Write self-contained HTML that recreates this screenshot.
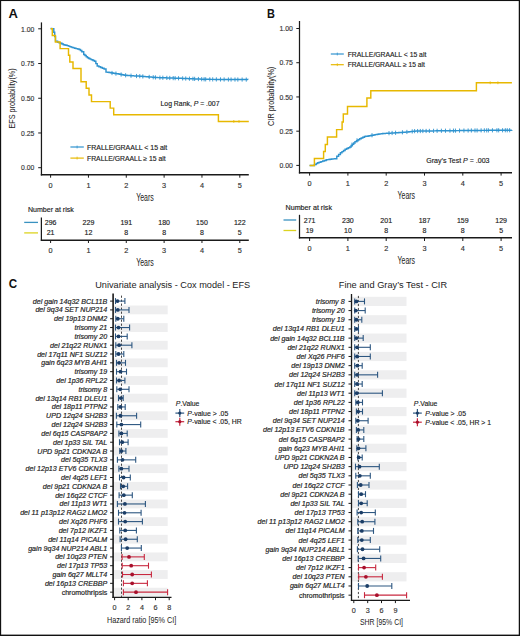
<!DOCTYPE html>
<html><head><meta charset="utf-8"><style>
html,body{margin:0;padding:0;background:#fff;}
body{width:520px;height:636px;overflow:hidden;}
svg{display:block;font-family:"Liberation Sans", sans-serif;}
</style></head><body>
<svg width="520" height="636" viewBox="0 0 520 636">
<rect x="0" y="0" width="520" height="636" fill="#fff"/>
<text x="8.4" y="18.1" font-size="12.9" text-anchor="start" fill="#111" font-weight="bold" textLength="9.4" lengthAdjust="spacingAndGlyphs">A</text>
<line x1="41.45" y1="22.4" x2="41.45" y2="175.5" stroke="#1a1a1a" stroke-width="1.25"/>
<line x1="40.8" y1="174.8" x2="248.8" y2="174.8" stroke="#1a1a1a" stroke-width="1.5"/>
<line x1="38.2" y1="167.7" x2="41.4" y2="167.7" stroke="#1a1a1a" stroke-width="1"/>
<text x="34.4" y="170.4" font-size="7.5" text-anchor="end" fill="#333" textLength="13.3" lengthAdjust="spacingAndGlyphs" stroke="#333" stroke-width="0.15">0.00</text>
<line x1="38.2" y1="132.975" x2="41.4" y2="132.975" stroke="#1a1a1a" stroke-width="1"/>
<text x="34.4" y="135.67" font-size="7.5" text-anchor="end" fill="#333" textLength="13.3" lengthAdjust="spacingAndGlyphs" stroke="#333" stroke-width="0.15">0.25</text>
<line x1="38.2" y1="98.24999999999999" x2="41.4" y2="98.24999999999999" stroke="#1a1a1a" stroke-width="1"/>
<text x="34.4" y="100.95" font-size="7.5" text-anchor="end" fill="#333" textLength="13.3" lengthAdjust="spacingAndGlyphs" stroke="#333" stroke-width="0.15">0.50</text>
<line x1="38.2" y1="63.52499999999998" x2="41.4" y2="63.52499999999998" stroke="#1a1a1a" stroke-width="1"/>
<text x="34.4" y="66.22" font-size="7.5" text-anchor="end" fill="#333" textLength="13.3" lengthAdjust="spacingAndGlyphs" stroke="#333" stroke-width="0.15">0.75</text>
<line x1="38.2" y1="28.799999999999983" x2="41.4" y2="28.799999999999983" stroke="#1a1a1a" stroke-width="1"/>
<text x="34.4" y="31.5" font-size="7.5" text-anchor="end" fill="#333" textLength="13.3" lengthAdjust="spacingAndGlyphs" stroke="#333" stroke-width="0.15">1.00</text>
<line x1="50.6" y1="174.8" x2="50.6" y2="177.7" stroke="#1a1a1a" stroke-width="1"/>
<text x="50.6" y="187.5" font-size="7.3" text-anchor="middle" fill="#333" stroke="#333" stroke-width="0.15">0</text>
<line x1="88.44" y1="174.8" x2="88.44" y2="177.7" stroke="#1a1a1a" stroke-width="1"/>
<text x="88.44" y="187.5" font-size="7.3" text-anchor="middle" fill="#333" stroke="#333" stroke-width="0.15">1</text>
<line x1="126.28" y1="174.8" x2="126.28" y2="177.7" stroke="#1a1a1a" stroke-width="1"/>
<text x="126.28" y="187.5" font-size="7.3" text-anchor="middle" fill="#333" stroke="#333" stroke-width="0.15">2</text>
<line x1="164.12" y1="174.8" x2="164.12" y2="177.7" stroke="#1a1a1a" stroke-width="1"/>
<text x="164.12" y="187.5" font-size="7.3" text-anchor="middle" fill="#333" stroke="#333" stroke-width="0.15">3</text>
<line x1="201.96" y1="174.8" x2="201.96" y2="177.7" stroke="#1a1a1a" stroke-width="1"/>
<text x="201.96" y="187.5" font-size="7.3" text-anchor="middle" fill="#333" stroke="#333" stroke-width="0.15">4</text>
<line x1="239.8" y1="174.8" x2="239.8" y2="177.7" stroke="#1a1a1a" stroke-width="1"/>
<text x="239.8" y="187.5" font-size="7.3" text-anchor="middle" fill="#333" stroke="#333" stroke-width="0.15">5</text>
<text x="145" y="201" font-size="10.3" text-anchor="middle" fill="#222" textLength="17.6" lengthAdjust="spacingAndGlyphs">Years</text>
<text transform="translate(15.2,98.4) rotate(-90)" font-size="9.2" text-anchor="middle" fill="#222" textLength="60.2" lengthAdjust="spacingAndGlyphs">EFS probability(%)</text>
<path d="M50.6,28.5 H51.70 V28.60 H53.80 V32.20 H54.70 V36.50 H55.50 V41.10 H57.60 V42.30 H59.05 V42.75 H60.50 V43.20 H61.95 V43.95 H63.40 V44.70 H64.67 V45.00 H65.93 V45.30 H67.20 V45.60 H68.50 V46.10 H69.80 V46.60 H71.10 V47.10 H72.32 V47.48 H73.55 V47.85 H74.78 V48.23 H76.00 V48.60 H77.55 V49.00 H79.10 V49.40 H80.45 V50.55 H81.80 V51.70 H83.70 V54.40 H84.97 V55.53 H86.23 V56.67 H87.50 V57.80 H88.80 V58.47 H90.10 V59.13 H91.40 V59.80 H92.95 V60.55 H94.50 V61.30 H95.85 V63.60 H97.20 V65.90 H98.90 V66.70 H100.60 V67.50 H102.35 V68.25 H104.10 V69.00 H106.00 V72.10 H107.53 V72.33 H109.07 V72.57 H110.60 V72.80 H111.95 V73.00 H113.30 V73.20 H114.65 V73.40 H116.00 V73.60 H117.23 V73.83 H118.46 V74.06 H119.69 V74.29 H120.91 V74.51 H122.14 V74.74 H123.37 V74.97 H124.60 V75.20 H125.83 V75.30 H127.07 V75.40 H128.30 V75.50 H129.53 V75.60 H130.77 V75.70 H132.00 V75.80 H133.33 V75.87 H134.67 V75.93 H136.00 V76.00 H137.33 V76.07 H138.67 V76.13 H140.00 V76.20 H141.25 V76.30 H142.50 V76.40 H143.75 V76.50 H145.00 V76.60 H146.25 V76.70 H147.50 V76.80 H148.75 V76.90 H150.00 V77.00 H151.25 V77.10 H152.50 V77.20 H153.75 V77.30 H155.00 V77.40 H156.25 V77.50 H157.50 V77.60 H158.75 V77.64 H160.00 V77.68 H161.25 V77.72 H162.50 V77.76 H163.75 V77.80 H165.00 V77.84 H166.25 V77.88 H167.50 V77.92 H168.75 V77.96 H170.00 V78.00 H171.25 V78.04 H172.50 V78.08 H173.75 V78.11 H175.00 V78.15 H176.25 V78.19 H177.50 V78.22 H178.75 V78.26 H180.00 V78.30 H181.25 V78.35 H182.50 V78.40 H183.75 V78.45 H185.00 V78.50 H186.25 V78.55 H187.50 V78.60 H188.75 V78.65 H190.00 V78.70 H191.25 V78.75 H192.50 V78.80 H193.75 V78.85 H195.00 V78.90 H196.25 V78.95 H197.50 V79.00 H198.75 V79.05 H200.00 V79.10 H201.25 V79.15 H202.50 V79.20 H203.75 V79.25 H205.00 V79.30 H206.25 V79.31 H207.50 V79.33 H208.75 V79.34 H210.00 V79.35 H211.25 V79.36 H212.50 V79.38 H213.75 V79.39 H215.00 V79.40 H216.25 V79.41 H217.50 V79.42 H218.75 V79.44 H220.00 V79.45 H221.25 V79.46 H222.50 V79.47 H223.75 V79.49 H225.00 V79.50 H226.21 V79.51 H227.42 V79.51 H228.63 V79.52 H229.84 V79.52 H231.05 V79.53 H232.26 V79.53 H233.47 V79.54 H234.68 V79.54 H235.89 V79.55 H237.11 V79.55 H238.32 V79.56 H239.53 V79.56 H240.74 V79.57 H241.95 V79.57 H243.16 V79.58 H244.37 V79.58 H245.58 V79.59 H246.79 V79.59 H248.00 V79.60" fill="none" stroke="#2f93cf" stroke-width="1.45"/>
<path d="M50.6,28.8 H52.3 V35.5 H55.4 V42.0 H60.1 V48.6 H68.5 V55.2 H69.8 V61.9 H73.0 V68.5 H81.0 V81.7 H86.2 V88.3 H89.0 V94.9 H91.5 V101.6 H110.2 V108.1 H113.7 V114.7 H218.4 V121.4 H248.8" fill="none" stroke="#E7B800" stroke-width="1.45"/>
<line x1="112" y1="70.91" x2="112" y2="75.11" stroke="#2f93cf" stroke-width="0.9"/>
<line x1="115.95" y1="71.49" x2="115.95" y2="75.69" stroke="#2f93cf" stroke-width="0.9"/>
<line x1="121.13" y1="72.45" x2="121.13" y2="76.65" stroke="#2f93cf" stroke-width="0.9"/>
<line x1="125.61" y1="73.18" x2="125.61" y2="77.38" stroke="#2f93cf" stroke-width="0.9"/>
<line x1="131.02" y1="73.62" x2="131.02" y2="77.82" stroke="#2f93cf" stroke-width="0.9"/>
<line x1="136.53" y1="73.93" x2="136.53" y2="78.13" stroke="#2f93cf" stroke-width="0.9"/>
<line x1="139.79" y1="74.09" x2="139.79" y2="78.29" stroke="#2f93cf" stroke-width="0.9"/>
<line x1="142.84" y1="74.33" x2="142.84" y2="78.53" stroke="#2f93cf" stroke-width="0.9"/>
<line x1="149.19" y1="74.84" x2="149.19" y2="79.04" stroke="#2f93cf" stroke-width="0.9"/>
<line x1="153.23" y1="75.16" x2="153.23" y2="79.36" stroke="#2f93cf" stroke-width="0.9"/>
<line x1="155.43" y1="75.33" x2="155.43" y2="79.53" stroke="#2f93cf" stroke-width="0.9"/>
<line x1="159.92" y1="75.58" x2="159.92" y2="79.78" stroke="#2f93cf" stroke-width="0.9"/>
<line x1="162.83" y1="75.67" x2="162.83" y2="79.87" stroke="#2f93cf" stroke-width="0.9"/>
<line x1="166.84" y1="75.8" x2="166.84" y2="80.0" stroke="#2f93cf" stroke-width="0.9"/>
<line x1="169.77" y1="75.89" x2="169.77" y2="80.09" stroke="#2f93cf" stroke-width="0.9"/>
<line x1="173.19" y1="76.0" x2="173.19" y2="80.2" stroke="#2f93cf" stroke-width="0.9"/>
<line x1="175.14" y1="76.05" x2="175.14" y2="80.25" stroke="#2f93cf" stroke-width="0.9"/>
<line x1="178.54" y1="76.16" x2="178.54" y2="80.36" stroke="#2f93cf" stroke-width="0.9"/>
<line x1="182.65" y1="76.31" x2="182.65" y2="80.51" stroke="#2f93cf" stroke-width="0.9"/>
<line x1="185.72" y1="76.43" x2="185.72" y2="80.63" stroke="#2f93cf" stroke-width="0.9"/>
<line x1="189.44" y1="76.58" x2="189.44" y2="80.78" stroke="#2f93cf" stroke-width="0.9"/>
<line x1="192.95" y1="76.72" x2="192.95" y2="80.92" stroke="#2f93cf" stroke-width="0.9"/>
<line x1="194.65" y1="76.79" x2="194.65" y2="80.99" stroke="#2f93cf" stroke-width="0.9"/>
<line x1="198.42" y1="76.94" x2="198.42" y2="81.14" stroke="#2f93cf" stroke-width="0.9"/>
<line x1="201.69" y1="77.07" x2="201.69" y2="81.27" stroke="#2f93cf" stroke-width="0.9"/>
<line x1="204.1" y1="77.16" x2="204.1" y2="81.36" stroke="#2f93cf" stroke-width="0.9"/>
<line x1="205.69" y1="77.21" x2="205.69" y2="81.41" stroke="#2f93cf" stroke-width="0.9"/>
<line x1="209.79" y1="77.25" x2="209.79" y2="81.45" stroke="#2f93cf" stroke-width="0.9"/>
<line x1="212.71" y1="77.28" x2="212.71" y2="81.48" stroke="#2f93cf" stroke-width="0.9"/>
<line x1="216.36" y1="77.31" x2="216.36" y2="81.51" stroke="#2f93cf" stroke-width="0.9"/>
<line x1="220.5" y1="77.35" x2="220.5" y2="81.55" stroke="#2f93cf" stroke-width="0.9"/>
<line x1="224.14" y1="77.39" x2="224.14" y2="81.59" stroke="#2f93cf" stroke-width="0.9"/>
<line x1="228.4" y1="77.41" x2="228.4" y2="81.61" stroke="#2f93cf" stroke-width="0.9"/>
<line x1="231.09" y1="77.43" x2="231.09" y2="81.63" stroke="#2f93cf" stroke-width="0.9"/>
<line x1="234.99" y1="77.44" x2="234.99" y2="81.64" stroke="#2f93cf" stroke-width="0.9"/>
<line x1="237.83" y1="77.46" x2="237.83" y2="81.66" stroke="#2f93cf" stroke-width="0.9"/>
<line x1="242.13" y1="77.47" x2="242.13" y2="81.67" stroke="#2f93cf" stroke-width="0.9"/>
<line x1="246.27" y1="77.49" x2="246.27" y2="81.69" stroke="#2f93cf" stroke-width="0.9"/>
<line x1="233.8" y1="120" x2="233.8" y2="122.8" stroke="#E7B800" stroke-width="0.8"/>
<line x1="239.0" y1="120" x2="239.0" y2="122.8" stroke="#E7B800" stroke-width="0.8"/>
<line x1="70.4" y1="147" x2="83.8" y2="147" stroke="#2f93cf" stroke-width="1.2"/>
<line x1="77.1" y1="145.6" x2="77.1" y2="148.4" stroke="#2f93cf" stroke-width="0.8"/>
<line x1="70.4" y1="158.1" x2="83.8" y2="158.1" stroke="#E7B800" stroke-width="1.2"/>
<line x1="77.1" y1="156.7" x2="77.1" y2="159.5" stroke="#E7B800" stroke-width="0.8"/>
<text x="87" y="149.5" font-size="7" text-anchor="start" fill="#222" textLength="80.3" lengthAdjust="spacingAndGlyphs" stroke="#222" stroke-width="0.15">FRALLE/GRAALL &lt; 15 alt</text>
<text x="87" y="160.6" font-size="7" text-anchor="start" fill="#222" textLength="78.7" lengthAdjust="spacingAndGlyphs" stroke="#222" stroke-width="0.15">FRALLE/GRAALL ≥ 15 alt</text>
<text x="160.5" y="106.2" font-size="7" text-anchor="start" fill="#222" textLength="59" lengthAdjust="spacingAndGlyphs" stroke="#222" stroke-width="0.15">Log Rank, <tspan font-style="italic">P</tspan> = .007</text>
<text x="28" y="212" font-size="6.8" text-anchor="start" fill="#222" textLength="45.8" lengthAdjust="spacingAndGlyphs" stroke="#222" stroke-width="0.15">Number at risk</text>
<line x1="24.2" y1="222.4" x2="38" y2="222.4" stroke="#3a92c0" stroke-width="1.3"/>
<line x1="24.2" y1="232.9" x2="38" y2="232.9" stroke="#dcd320" stroke-width="1.3"/>
<line x1="41.4" y1="217.5" x2="41.4" y2="240.9" stroke="#1a1a1a" stroke-width="1.25"/>
<line x1="40.8" y1="240.2" x2="248.8" y2="240.2" stroke="#1a1a1a" stroke-width="1.4"/>
<text x="50.6" y="224.8" font-size="7" text-anchor="middle" fill="#222" stroke="#222" stroke-width="0.15">296</text>
<text x="50.6" y="235.2" font-size="7" text-anchor="middle" fill="#222" stroke="#222" stroke-width="0.15">21</text>
<line x1="50.6" y1="240" x2="50.6" y2="243" stroke="#1a1a1a" stroke-width="1"/>
<text x="50.6" y="252.9" font-size="7.3" text-anchor="middle" fill="#333" stroke="#333" stroke-width="0.15">0</text>
<text x="88.44" y="224.8" font-size="7" text-anchor="middle" fill="#222" stroke="#222" stroke-width="0.15">229</text>
<text x="88.44" y="235.2" font-size="7" text-anchor="middle" fill="#222" stroke="#222" stroke-width="0.15">12</text>
<line x1="88.44" y1="240" x2="88.44" y2="243" stroke="#1a1a1a" stroke-width="1"/>
<text x="88.44" y="252.9" font-size="7.3" text-anchor="middle" fill="#333" stroke="#333" stroke-width="0.15">1</text>
<text x="126.28" y="224.8" font-size="7" text-anchor="middle" fill="#222" stroke="#222" stroke-width="0.15">191</text>
<text x="126.28" y="235.2" font-size="7" text-anchor="middle" fill="#222" stroke="#222" stroke-width="0.15">8</text>
<line x1="126.28" y1="240" x2="126.28" y2="243" stroke="#1a1a1a" stroke-width="1"/>
<text x="126.28" y="252.9" font-size="7.3" text-anchor="middle" fill="#333" stroke="#333" stroke-width="0.15">2</text>
<text x="164.12" y="224.8" font-size="7" text-anchor="middle" fill="#222" stroke="#222" stroke-width="0.15">180</text>
<text x="164.12" y="235.2" font-size="7" text-anchor="middle" fill="#222" stroke="#222" stroke-width="0.15">8</text>
<line x1="164.12" y1="240" x2="164.12" y2="243" stroke="#1a1a1a" stroke-width="1"/>
<text x="164.12" y="252.9" font-size="7.3" text-anchor="middle" fill="#333" stroke="#333" stroke-width="0.15">3</text>
<text x="201.96" y="224.8" font-size="7" text-anchor="middle" fill="#222" stroke="#222" stroke-width="0.15">150</text>
<text x="201.96" y="235.2" font-size="7" text-anchor="middle" fill="#222" stroke="#222" stroke-width="0.15">8</text>
<line x1="201.96" y1="240" x2="201.96" y2="243" stroke="#1a1a1a" stroke-width="1"/>
<text x="201.96" y="252.9" font-size="7.3" text-anchor="middle" fill="#333" stroke="#333" stroke-width="0.15">4</text>
<text x="239.8" y="224.8" font-size="7" text-anchor="middle" fill="#222" stroke="#222" stroke-width="0.15">122</text>
<text x="239.8" y="235.2" font-size="7" text-anchor="middle" fill="#222" stroke="#222" stroke-width="0.15">5</text>
<line x1="239.8" y1="240" x2="239.8" y2="243" stroke="#1a1a1a" stroke-width="1"/>
<text x="239.8" y="252.9" font-size="7.3" text-anchor="middle" fill="#333" stroke="#333" stroke-width="0.15">5</text>
<text x="145" y="266.3" font-size="10.3" text-anchor="middle" fill="#222" textLength="17.6" lengthAdjust="spacingAndGlyphs">Years</text>
<text x="267.1" y="17.6" font-size="12.2" text-anchor="start" fill="#111" font-weight="bold" textLength="7.9" lengthAdjust="spacingAndGlyphs">B</text>
<line x1="299.5" y1="21.0" x2="299.5" y2="173.5" stroke="#1a1a1a" stroke-width="1.25"/>
<line x1="298.9" y1="172.75" x2="512" y2="172.75" stroke="#1a1a1a" stroke-width="1.5"/>
<line x1="296.3" y1="165.4" x2="299.5" y2="165.4" stroke="#1a1a1a" stroke-width="1"/>
<text x="292.8" y="168.1" font-size="7.5" text-anchor="end" fill="#333" textLength="13.4" lengthAdjust="spacingAndGlyphs" stroke="#333" stroke-width="0.15">0.00</text>
<line x1="296.3" y1="131.175" x2="299.5" y2="131.175" stroke="#1a1a1a" stroke-width="1"/>
<text x="292.8" y="133.88" font-size="7.5" text-anchor="end" fill="#333" textLength="13.4" lengthAdjust="spacingAndGlyphs" stroke="#333" stroke-width="0.15">0.25</text>
<line x1="296.3" y1="96.95" x2="299.5" y2="96.95" stroke="#1a1a1a" stroke-width="1"/>
<text x="292.8" y="99.65" font-size="7.5" text-anchor="end" fill="#333" textLength="13.4" lengthAdjust="spacingAndGlyphs" stroke="#333" stroke-width="0.15">0.50</text>
<line x1="296.3" y1="62.724999999999994" x2="299.5" y2="62.724999999999994" stroke="#1a1a1a" stroke-width="1"/>
<text x="292.8" y="65.42" font-size="7.5" text-anchor="end" fill="#333" textLength="13.4" lengthAdjust="spacingAndGlyphs" stroke="#333" stroke-width="0.15">0.75</text>
<line x1="296.3" y1="28.5" x2="299.5" y2="28.5" stroke="#1a1a1a" stroke-width="1"/>
<text x="292.8" y="31.2" font-size="7.5" text-anchor="end" fill="#333" textLength="13.4" lengthAdjust="spacingAndGlyphs" stroke="#333" stroke-width="0.15">1.00</text>
<line x1="309.6" y1="172.7" x2="309.6" y2="175.6" stroke="#1a1a1a" stroke-width="1"/>
<text x="309.6" y="185.5" font-size="7.3" text-anchor="middle" fill="#333" stroke="#333" stroke-width="0.15">0</text>
<line x1="347.90000000000003" y1="172.7" x2="347.90000000000003" y2="175.6" stroke="#1a1a1a" stroke-width="1"/>
<text x="347.9" y="185.5" font-size="7.3" text-anchor="middle" fill="#333" stroke="#333" stroke-width="0.15">1</text>
<line x1="386.20000000000005" y1="172.7" x2="386.20000000000005" y2="175.6" stroke="#1a1a1a" stroke-width="1"/>
<text x="386.2" y="185.5" font-size="7.3" text-anchor="middle" fill="#333" stroke="#333" stroke-width="0.15">2</text>
<line x1="424.5" y1="172.7" x2="424.5" y2="175.6" stroke="#1a1a1a" stroke-width="1"/>
<text x="424.5" y="185.5" font-size="7.3" text-anchor="middle" fill="#333" stroke="#333" stroke-width="0.15">3</text>
<line x1="462.8" y1="172.7" x2="462.8" y2="175.6" stroke="#1a1a1a" stroke-width="1"/>
<text x="462.8" y="185.5" font-size="7.3" text-anchor="middle" fill="#333" stroke="#333" stroke-width="0.15">4</text>
<line x1="501.1" y1="172.7" x2="501.1" y2="175.6" stroke="#1a1a1a" stroke-width="1"/>
<text x="501.1" y="185.5" font-size="7.3" text-anchor="middle" fill="#333" stroke="#333" stroke-width="0.15">5</text>
<text x="406.3" y="198.5" font-size="10.3" text-anchor="middle" fill="#222" textLength="17.6" lengthAdjust="spacingAndGlyphs">Years</text>
<text transform="translate(273.6,96.3) rotate(-90)" font-size="9.2" text-anchor="middle" fill="#222" textLength="59.2" lengthAdjust="spacingAndGlyphs">CIR probability(%)</text>
<path d="M309.6,165.4 H312.00 V165.40 H314.40 V164.60 H316.20 V163.40 H317.70 V162.80 H319.20 V162.20 H320.95 V161.60 H322.70 V161.00 H324.45 V160.40 H326.20 V159.80 H327.47 V159.60 H328.73 V159.40 H330.00 V159.20 H331.50 V159.03 H333.00 V158.87 H334.50 V158.70 H336.80 V156.30 H338.60 V154.55 H340.40 V152.80 H341.97 V151.60 H343.53 V150.40 H345.10 V149.20 H346.67 V148.43 H348.23 V147.67 H349.80 V146.90 H351.10 V145.57 H352.40 V144.25 H353.70 V142.93 H355.00 V141.60 H356.53 V140.67 H358.07 V139.73 H359.60 V138.80 H361.20 V138.03 H362.80 V137.27 H364.40 V136.50 H365.60 V136.32 H366.80 V136.15 H368.00 V135.98 H369.20 V135.80 H370.65 V135.50 H372.10 V135.20 H373.55 V134.90 H375.00 V134.60 H376.28 V134.42 H377.57 V134.23 H378.85 V134.05 H380.13 V133.87 H381.42 V133.68 H382.70 V133.50 H383.98 V133.43 H385.27 V133.37 H386.55 V133.30 H387.83 V133.23 H389.12 V133.17 H390.40 V133.10 H391.60 V133.03 H392.80 V132.95 H394.00 V132.88 H395.20 V132.80 H396.40 V132.72 H397.60 V132.65 H398.80 V132.57 H400.00 V132.50 H401.28 V132.40 H402.57 V132.30 H403.85 V132.20 H405.13 V132.10 H406.42 V132.00 H407.70 V131.90 H408.92 V131.77 H410.13 V131.63 H411.35 V131.50 H412.57 V131.37 H413.78 V131.23 H415.00 V131.10 H416.25 V131.09 H417.50 V131.07 H418.75 V131.06 H420.00 V131.04 H421.25 V131.03 H422.50 V131.01 H423.75 V131.00 H425.00 V130.98 H426.25 V130.97 H427.50 V130.95 H428.75 V130.94 H430.00 V130.92 H431.25 V130.91 H432.50 V130.89 H433.75 V130.88 H435.00 V130.86 H436.25 V130.84 H437.50 V130.83 H438.75 V130.81 H440.00 V130.80 H441.21 V130.79 H442.42 V130.78 H443.64 V130.76 H444.85 V130.75 H446.06 V130.74 H447.27 V130.73 H448.48 V130.72 H449.70 V130.70 H450.91 V130.69 H452.12 V130.68 H453.33 V130.67 H454.55 V130.65 H455.76 V130.64 H456.97 V130.63 H458.18 V130.62 H459.39 V130.61 H460.61 V130.59 H461.82 V130.58 H463.03 V130.57 H464.24 V130.56 H465.45 V130.55 H466.67 V130.53 H467.88 V130.52 H469.09 V130.51 H470.30 V130.50 H471.52 V130.48 H472.73 V130.47 H473.94 V130.46 H475.15 V130.45 H476.36 V130.44 H477.58 V130.42 H478.79 V130.41 H480.00 V130.40 H481.22 V130.39 H482.45 V130.38 H483.67 V130.38 H484.89 V130.37 H486.12 V130.36 H487.34 V130.35 H488.56 V130.35 H489.78 V130.34 H491.01 V130.33 H492.23 V130.32 H493.45 V130.32 H494.68 V130.31 H495.90 V130.30 H497.12 V130.29 H498.35 V130.28 H499.57 V130.28 H500.79 V130.27 H502.02 V130.26 H503.24 V130.25 H504.46 V130.25 H505.68 V130.24 H506.91 V130.23 H508.13 V130.22 H509.35 V130.22 H510.58 V130.21 H511.80 V130.20" fill="none" stroke="#2f93cf" stroke-width="1.45"/>
<path d="M309.6,165.4 H314.4 V158.4 H323.6 V151.4 H325.3 V144.5 H327.4 V136.9 H336.6 V129.6 H342.1 V122.0 H343.3 V114.0 H347.5 V106.5 H366.9 V97.9 H370.8 V90.8 H476.4 V82.8 H511.9" fill="none" stroke="#E7B800" stroke-width="1.45"/>
<line x1="352" y1="142.56" x2="352" y2="146.76" stroke="#2f93cf" stroke-width="0.9"/>
<line x1="357" y1="138.28" x2="357" y2="142.48" stroke="#2f93cf" stroke-width="0.9"/>
<line x1="372" y1="133.12" x2="372" y2="137.32" stroke="#2f93cf" stroke-width="0.9"/>
<line x1="389" y1="131.07" x2="389" y2="135.27" stroke="#2f93cf" stroke-width="0.9"/>
<line x1="392.11" y1="130.89" x2="392.11" y2="135.09" stroke="#2f93cf" stroke-width="0.9"/>
<line x1="395.59" y1="130.68" x2="395.59" y2="134.88" stroke="#2f93cf" stroke-width="0.9"/>
<line x1="402.43" y1="130.21" x2="402.43" y2="134.41" stroke="#2f93cf" stroke-width="0.9"/>
<line x1="406.9" y1="129.86" x2="406.9" y2="134.06" stroke="#2f93cf" stroke-width="0.9"/>
<line x1="412.22" y1="129.31" x2="412.22" y2="133.51" stroke="#2f93cf" stroke-width="0.9"/>
<line x1="414.62" y1="129.04" x2="414.62" y2="133.24" stroke="#2f93cf" stroke-width="0.9"/>
<line x1="417.64" y1="128.97" x2="417.64" y2="133.17" stroke="#2f93cf" stroke-width="0.9"/>
<line x1="420.3" y1="128.94" x2="420.3" y2="133.14" stroke="#2f93cf" stroke-width="0.9"/>
<line x1="422.85" y1="128.91" x2="422.85" y2="133.11" stroke="#2f93cf" stroke-width="0.9"/>
<line x1="426.11" y1="128.87" x2="426.11" y2="133.07" stroke="#2f93cf" stroke-width="0.9"/>
<line x1="429.36" y1="128.83" x2="429.36" y2="133.03" stroke="#2f93cf" stroke-width="0.9"/>
<line x1="433.57" y1="128.78" x2="433.57" y2="132.98" stroke="#2f93cf" stroke-width="0.9"/>
<line x1="437.12" y1="128.73" x2="437.12" y2="132.93" stroke="#2f93cf" stroke-width="0.9"/>
<line x1="441.4" y1="128.69" x2="441.4" y2="132.89" stroke="#2f93cf" stroke-width="0.9"/>
<line x1="445.47" y1="128.65" x2="445.47" y2="132.85" stroke="#2f93cf" stroke-width="0.9"/>
<line x1="449.95" y1="128.6" x2="449.95" y2="132.8" stroke="#2f93cf" stroke-width="0.9"/>
<line x1="453.46" y1="128.57" x2="453.46" y2="132.77" stroke="#2f93cf" stroke-width="0.9"/>
<line x1="455.45" y1="128.55" x2="455.45" y2="132.75" stroke="#2f93cf" stroke-width="0.9"/>
<line x1="459.53" y1="128.5" x2="459.53" y2="132.7" stroke="#2f93cf" stroke-width="0.9"/>
<line x1="463.93" y1="128.46" x2="463.93" y2="132.66" stroke="#2f93cf" stroke-width="0.9"/>
<line x1="468.14" y1="128.42" x2="468.14" y2="132.62" stroke="#2f93cf" stroke-width="0.9"/>
<line x1="471.35" y1="128.39" x2="471.35" y2="132.59" stroke="#2f93cf" stroke-width="0.9"/>
<line x1="474.99" y1="128.35" x2="474.99" y2="132.55" stroke="#2f93cf" stroke-width="0.9"/>
<line x1="477.12" y1="128.33" x2="477.12" y2="132.53" stroke="#2f93cf" stroke-width="0.9"/>
<line x1="481.12" y1="128.29" x2="481.12" y2="132.49" stroke="#2f93cf" stroke-width="0.9"/>
<line x1="484.34" y1="128.27" x2="484.34" y2="132.47" stroke="#2f93cf" stroke-width="0.9"/>
<line x1="486.69" y1="128.26" x2="486.69" y2="132.46" stroke="#2f93cf" stroke-width="0.9"/>
<line x1="488.38" y1="128.25" x2="488.38" y2="132.45" stroke="#2f93cf" stroke-width="0.9"/>
<line x1="492.44" y1="128.22" x2="492.44" y2="132.42" stroke="#2f93cf" stroke-width="0.9"/>
<line x1="496.91" y1="128.19" x2="496.91" y2="132.39" stroke="#2f93cf" stroke-width="0.9"/>
<line x1="498.68" y1="128.18" x2="498.68" y2="132.38" stroke="#2f93cf" stroke-width="0.9"/>
<line x1="502.58" y1="128.16" x2="502.58" y2="132.36" stroke="#2f93cf" stroke-width="0.9"/>
<line x1="505.31" y1="128.14" x2="505.31" y2="132.34" stroke="#2f93cf" stroke-width="0.9"/>
<line x1="507.26" y1="128.13" x2="507.26" y2="132.33" stroke="#2f93cf" stroke-width="0.9"/>
<line x1="509.65" y1="128.11" x2="509.65" y2="132.31" stroke="#2f93cf" stroke-width="0.9"/>
<line x1="490.2" y1="81.4" x2="490.2" y2="84.2" stroke="#E7B800" stroke-width="0.8"/>
<line x1="497.9" y1="81.4" x2="497.9" y2="84.2" stroke="#E7B800" stroke-width="0.8"/>
<line x1="330.8" y1="54" x2="343.8" y2="54" stroke="#2f93cf" stroke-width="1.2"/>
<line x1="337.3" y1="52.6" x2="337.3" y2="55.4" stroke="#2f93cf" stroke-width="0.8"/>
<line x1="330.8" y1="64.7" x2="343.8" y2="64.7" stroke="#E7B800" stroke-width="1.2"/>
<line x1="337.3" y1="63.3" x2="337.3" y2="66.1" stroke="#E7B800" stroke-width="0.8"/>
<text x="347.7" y="56.5" font-size="7" text-anchor="start" fill="#222" textLength="78.6" lengthAdjust="spacingAndGlyphs" stroke="#222" stroke-width="0.15">FRALLE/GRAALL &lt; 15 alt</text>
<text x="347.7" y="67.2" font-size="7" text-anchor="start" fill="#222" textLength="77.2" lengthAdjust="spacingAndGlyphs" stroke="#222" stroke-width="0.15">FRALLE/GRAALL ≥ 15 alt</text>
<text x="426.3" y="162.5" font-size="7" text-anchor="start" fill="#222" textLength="63.2" lengthAdjust="spacingAndGlyphs" stroke="#222" stroke-width="0.15">Gray’s Test <tspan font-style="italic">P</tspan> = .003</text>
<text x="285.5" y="210" font-size="6.8" text-anchor="start" fill="#222" textLength="46.5" lengthAdjust="spacingAndGlyphs" stroke="#222" stroke-width="0.15">Number at risk</text>
<line x1="283.5" y1="220" x2="296.2" y2="220" stroke="#3a92c0" stroke-width="1.3"/>
<line x1="283.5" y1="230.5" x2="296.2" y2="230.5" stroke="#dcd320" stroke-width="1.3"/>
<line x1="299.5" y1="214.8" x2="299.5" y2="238.5" stroke="#1a1a1a" stroke-width="1.25"/>
<line x1="298.9" y1="237.8" x2="512" y2="237.8" stroke="#1a1a1a" stroke-width="1.5"/>
<text x="309.6" y="222.6" font-size="7" text-anchor="middle" fill="#222" stroke="#222" stroke-width="0.15">271</text>
<text x="309.6" y="232.9" font-size="7" text-anchor="middle" fill="#222" stroke="#222" stroke-width="0.15">19</text>
<line x1="309.6" y1="238" x2="309.6" y2="241" stroke="#1a1a1a" stroke-width="1"/>
<text x="309.6" y="250.7" font-size="7.3" text-anchor="middle" fill="#333" stroke="#333" stroke-width="0.15">0</text>
<text x="347.9" y="222.6" font-size="7" text-anchor="middle" fill="#222" stroke="#222" stroke-width="0.15">230</text>
<text x="347.9" y="232.9" font-size="7" text-anchor="middle" fill="#222" stroke="#222" stroke-width="0.15">10</text>
<line x1="347.90000000000003" y1="238" x2="347.90000000000003" y2="241" stroke="#1a1a1a" stroke-width="1"/>
<text x="347.9" y="250.7" font-size="7.3" text-anchor="middle" fill="#333" stroke="#333" stroke-width="0.15">1</text>
<text x="386.2" y="222.6" font-size="7" text-anchor="middle" fill="#222" stroke="#222" stroke-width="0.15">201</text>
<text x="386.2" y="232.9" font-size="7" text-anchor="middle" fill="#222" stroke="#222" stroke-width="0.15">8</text>
<line x1="386.20000000000005" y1="238" x2="386.20000000000005" y2="241" stroke="#1a1a1a" stroke-width="1"/>
<text x="386.2" y="250.7" font-size="7.3" text-anchor="middle" fill="#333" stroke="#333" stroke-width="0.15">2</text>
<text x="424.5" y="222.6" font-size="7" text-anchor="middle" fill="#222" stroke="#222" stroke-width="0.15">187</text>
<text x="424.5" y="232.9" font-size="7" text-anchor="middle" fill="#222" stroke="#222" stroke-width="0.15">8</text>
<line x1="424.5" y1="238" x2="424.5" y2="241" stroke="#1a1a1a" stroke-width="1"/>
<text x="424.5" y="250.7" font-size="7.3" text-anchor="middle" fill="#333" stroke="#333" stroke-width="0.15">3</text>
<text x="462.8" y="222.6" font-size="7" text-anchor="middle" fill="#222" stroke="#222" stroke-width="0.15">159</text>
<text x="462.8" y="232.9" font-size="7" text-anchor="middle" fill="#222" stroke="#222" stroke-width="0.15">8</text>
<line x1="462.8" y1="238" x2="462.8" y2="241" stroke="#1a1a1a" stroke-width="1"/>
<text x="462.8" y="250.7" font-size="7.3" text-anchor="middle" fill="#333" stroke="#333" stroke-width="0.15">4</text>
<text x="501.1" y="222.6" font-size="7" text-anchor="middle" fill="#222" stroke="#222" stroke-width="0.15">129</text>
<text x="501.1" y="232.9" font-size="7" text-anchor="middle" fill="#222" stroke="#222" stroke-width="0.15">5</text>
<line x1="501.1" y1="238" x2="501.1" y2="241" stroke="#1a1a1a" stroke-width="1"/>
<text x="501.1" y="250.7" font-size="7.3" text-anchor="middle" fill="#333" stroke="#333" stroke-width="0.15">5</text>
<text x="406.3" y="264.2" font-size="10.3" text-anchor="middle" fill="#222" textLength="17.6" lengthAdjust="spacingAndGlyphs">Years</text>
<text x="8.7" y="288.2" font-size="13.2" text-anchor="start" fill="#111" font-weight="bold" textLength="8.4" lengthAdjust="spacingAndGlyphs">C</text>
<rect x="113.1" y="305.51" width="54.60" height="8.82" fill="#eeeeef"/>
<rect x="113.1" y="323.15" width="54.60" height="8.82" fill="#eeeeef"/>
<rect x="113.1" y="340.79" width="54.60" height="8.82" fill="#eeeeef"/>
<rect x="113.1" y="358.43" width="54.60" height="8.82" fill="#eeeeef"/>
<rect x="113.1" y="376.07" width="54.60" height="8.82" fill="#eeeeef"/>
<rect x="113.1" y="393.71" width="54.60" height="8.82" fill="#eeeeef"/>
<rect x="113.1" y="411.35" width="54.60" height="8.82" fill="#eeeeef"/>
<rect x="113.1" y="428.99" width="54.60" height="8.82" fill="#eeeeef"/>
<rect x="113.1" y="446.63" width="54.60" height="8.82" fill="#eeeeef"/>
<rect x="113.1" y="464.27" width="54.60" height="8.82" fill="#eeeeef"/>
<rect x="113.1" y="481.91" width="54.60" height="8.82" fill="#eeeeef"/>
<rect x="113.1" y="499.55" width="54.60" height="8.82" fill="#eeeeef"/>
<rect x="113.1" y="517.19" width="54.60" height="8.82" fill="#eeeeef"/>
<rect x="113.1" y="534.83" width="54.60" height="8.82" fill="#eeeeef"/>
<rect x="113.1" y="552.47" width="54.60" height="8.82" fill="#eeeeef"/>
<rect x="113.1" y="570.11" width="54.60" height="8.82" fill="#eeeeef"/>
<rect x="113.1" y="587.75" width="54.60" height="8.82" fill="#eeeeef"/>
<line x1="121.5" y1="295.60" x2="121.5" y2="596.9" stroke="#333" stroke-width="0.9" stroke-dasharray="2.2,1.8"/>
<text x="107.2" y="303.6" font-size="7.1" text-anchor="end" fill="#222" font-style="italic" stroke="#222" stroke-width="0.18">del gain 14q32 BCL11B</text>
<line x1="110.1" y1="301.1" x2="113.1" y2="301.1" stroke="#1a1a1a" stroke-width="1"/>
<line x1="115.5" y1="301.1" x2="124.9" y2="301.1" stroke="#2c5680" stroke-width="1.1"/>
<line x1="115.5" y1="298.1" x2="115.5" y2="304.1" stroke="#2c5680" stroke-width="1.1"/>
<line x1="124.9" y1="298.1" x2="124.9" y2="304.1" stroke="#2c5680" stroke-width="1.1"/>
<circle cx="117.5" cy="301.1" r="1.9" fill="#1b3d66"/>
<text x="107.2" y="312.42" font-size="7.1" text-anchor="end" fill="#222" font-style="italic" stroke="#222" stroke-width="0.18">del 9q34 SET NUP214</text>
<line x1="110.1" y1="309.92" x2="113.1" y2="309.92" stroke="#1a1a1a" stroke-width="1"/>
<line x1="115.5" y1="309.92" x2="129.0" y2="309.92" stroke="#2c5680" stroke-width="1.1"/>
<line x1="115.5" y1="306.92" x2="115.5" y2="312.92" stroke="#2c5680" stroke-width="1.1"/>
<line x1="129.0" y1="306.92" x2="129.0" y2="312.92" stroke="#2c5680" stroke-width="1.1"/>
<circle cx="117.8" cy="309.92" r="1.9" fill="#1b3d66"/>
<text x="107.2" y="321.24" font-size="7.1" text-anchor="end" fill="#222" font-style="italic" stroke="#222" stroke-width="0.18">del 19p13 DNM2</text>
<line x1="110.1" y1="318.74" x2="113.1" y2="318.74" stroke="#1a1a1a" stroke-width="1"/>
<line x1="115.8" y1="318.74" x2="123.8" y2="318.74" stroke="#2c5680" stroke-width="1.1"/>
<line x1="115.8" y1="315.74" x2="115.8" y2="321.74" stroke="#2c5680" stroke-width="1.1"/>
<line x1="123.8" y1="315.74" x2="123.8" y2="321.74" stroke="#2c5680" stroke-width="1.1"/>
<circle cx="117.8" cy="318.74" r="1.9" fill="#1b3d66"/>
<text x="107.2" y="330.06" font-size="7.1" text-anchor="end" fill="#222" font-style="italic" stroke="#222" stroke-width="0.18">trisomy 21</text>
<line x1="110.1" y1="327.56" x2="113.1" y2="327.56" stroke="#1a1a1a" stroke-width="1"/>
<line x1="115.5" y1="327.56" x2="129.6" y2="327.56" stroke="#2c5680" stroke-width="1.1"/>
<line x1="115.5" y1="324.56" x2="115.5" y2="330.56" stroke="#2c5680" stroke-width="1.1"/>
<line x1="129.6" y1="324.56" x2="129.6" y2="330.56" stroke="#2c5680" stroke-width="1.1"/>
<circle cx="118.5" cy="327.56" r="1.9" fill="#1b3d66"/>
<text x="107.2" y="338.88" font-size="7.1" text-anchor="end" fill="#222" font-style="italic" stroke="#222" stroke-width="0.18">trisomy 20</text>
<line x1="110.1" y1="336.38" x2="113.1" y2="336.38" stroke="#1a1a1a" stroke-width="1"/>
<line x1="115.5" y1="336.38" x2="127.2" y2="336.38" stroke="#2c5680" stroke-width="1.1"/>
<line x1="115.5" y1="333.38" x2="115.5" y2="339.38" stroke="#2c5680" stroke-width="1.1"/>
<line x1="127.2" y1="333.38" x2="127.2" y2="339.38" stroke="#2c5680" stroke-width="1.1"/>
<circle cx="118.5" cy="336.38" r="1.9" fill="#1b3d66"/>
<text x="107.2" y="347.7" font-size="7.1" text-anchor="end" fill="#222" font-style="italic" stroke="#222" stroke-width="0.18">del 21q22 RUNX1</text>
<line x1="110.1" y1="345.2" x2="113.1" y2="345.2" stroke="#1a1a1a" stroke-width="1"/>
<line x1="115.8" y1="345.2" x2="131.9" y2="345.2" stroke="#2c5680" stroke-width="1.1"/>
<line x1="115.8" y1="342.2" x2="115.8" y2="348.2" stroke="#2c5680" stroke-width="1.1"/>
<line x1="131.9" y1="342.2" x2="131.9" y2="348.2" stroke="#2c5680" stroke-width="1.1"/>
<circle cx="119.1" cy="345.2" r="1.9" fill="#1b3d66"/>
<text x="107.2" y="356.52" font-size="7.1" text-anchor="end" fill="#222" font-style="italic" stroke="#222" stroke-width="0.18">del 17q11 NF1 SUZ12</text>
<line x1="110.1" y1="354.02" x2="113.1" y2="354.02" stroke="#1a1a1a" stroke-width="1"/>
<line x1="115.8" y1="354.02" x2="123.8" y2="354.02" stroke="#2c5680" stroke-width="1.1"/>
<line x1="115.8" y1="351.02" x2="115.8" y2="357.02" stroke="#2c5680" stroke-width="1.1"/>
<line x1="123.8" y1="351.02" x2="123.8" y2="357.02" stroke="#2c5680" stroke-width="1.1"/>
<circle cx="118.5" cy="354.02" r="1.9" fill="#1b3d66"/>
<text x="107.2" y="365.34" font-size="7.1" text-anchor="end" fill="#222" font-style="italic" stroke="#222" stroke-width="0.18">gain 6q23 MYB AHI1</text>
<line x1="110.1" y1="362.84" x2="113.1" y2="362.84" stroke="#1a1a1a" stroke-width="1"/>
<line x1="116.5" y1="362.84" x2="125.5" y2="362.84" stroke="#2c5680" stroke-width="1.1"/>
<line x1="116.5" y1="359.84" x2="116.5" y2="365.84" stroke="#2c5680" stroke-width="1.1"/>
<line x1="125.5" y1="359.84" x2="125.5" y2="365.84" stroke="#2c5680" stroke-width="1.1"/>
<circle cx="119.1" cy="362.84" r="1.9" fill="#1b3d66"/>
<text x="107.2" y="374.16" font-size="7.1" text-anchor="end" fill="#222" font-style="italic" stroke="#222" stroke-width="0.18">trisomy 19</text>
<line x1="110.1" y1="371.66" x2="113.1" y2="371.66" stroke="#1a1a1a" stroke-width="1"/>
<line x1="116.5" y1="371.66" x2="126.5" y2="371.66" stroke="#2c5680" stroke-width="1.1"/>
<line x1="116.5" y1="368.66" x2="116.5" y2="374.66" stroke="#2c5680" stroke-width="1.1"/>
<line x1="126.5" y1="368.66" x2="126.5" y2="374.66" stroke="#2c5680" stroke-width="1.1"/>
<circle cx="120.5" cy="371.66" r="1.9" fill="#1b3d66"/>
<text x="107.2" y="382.98" font-size="7.1" text-anchor="end" fill="#222" font-style="italic" stroke="#222" stroke-width="0.18">del 1p36 RPL22</text>
<line x1="110.1" y1="380.48" x2="113.1" y2="380.48" stroke="#1a1a1a" stroke-width="1"/>
<line x1="116.5" y1="380.48" x2="124.9" y2="380.48" stroke="#2c5680" stroke-width="1.1"/>
<line x1="116.5" y1="377.48" x2="116.5" y2="383.48" stroke="#2c5680" stroke-width="1.1"/>
<line x1="124.9" y1="377.48" x2="124.9" y2="383.48" stroke="#2c5680" stroke-width="1.1"/>
<circle cx="119.1" cy="380.48" r="1.9" fill="#1b3d66"/>
<text x="107.2" y="391.8" font-size="7.1" text-anchor="end" fill="#222" font-style="italic" stroke="#222" stroke-width="0.18">trisomy 8</text>
<line x1="110.1" y1="389.3" x2="113.1" y2="389.3" stroke="#1a1a1a" stroke-width="1"/>
<line x1="116.8" y1="389.3" x2="129.0" y2="389.3" stroke="#2c5680" stroke-width="1.1"/>
<line x1="116.8" y1="386.3" x2="116.8" y2="392.3" stroke="#2c5680" stroke-width="1.1"/>
<line x1="129.0" y1="386.3" x2="129.0" y2="392.3" stroke="#2c5680" stroke-width="1.1"/>
<circle cx="120.2" cy="389.3" r="1.9" fill="#1b3d66"/>
<text x="107.2" y="400.62" font-size="7.1" text-anchor="end" fill="#222" font-style="italic" stroke="#222" stroke-width="0.18">del 13q14 RB1 DLEU1</text>
<line x1="110.1" y1="398.12" x2="113.1" y2="398.12" stroke="#1a1a1a" stroke-width="1"/>
<line x1="118.5" y1="398.12" x2="123.2" y2="398.12" stroke="#2c5680" stroke-width="1.1"/>
<line x1="118.5" y1="395.12" x2="118.5" y2="401.12" stroke="#2c5680" stroke-width="1.1"/>
<line x1="123.2" y1="395.12" x2="123.2" y2="401.12" stroke="#2c5680" stroke-width="1.1"/>
<circle cx="120.9" cy="398.12" r="1.9" fill="#1b3d66"/>
<text x="107.2" y="409.44" font-size="7.1" text-anchor="end" fill="#222" font-style="italic" stroke="#222" stroke-width="0.18">del 18p11 PTPN2</text>
<line x1="110.1" y1="406.94" x2="113.1" y2="406.94" stroke="#1a1a1a" stroke-width="1"/>
<line x1="117.8" y1="406.94" x2="125.2" y2="406.94" stroke="#2c5680" stroke-width="1.1"/>
<line x1="117.8" y1="403.94" x2="117.8" y2="409.94" stroke="#2c5680" stroke-width="1.1"/>
<line x1="125.2" y1="403.94" x2="125.2" y2="409.94" stroke="#2c5680" stroke-width="1.1"/>
<circle cx="120.5" cy="406.94" r="1.9" fill="#1b3d66"/>
<text x="107.2" y="418.26" font-size="7.1" text-anchor="end" fill="#222" font-style="italic" stroke="#222" stroke-width="0.18">UPD 12q24 SH2B3</text>
<line x1="110.1" y1="415.76" x2="113.1" y2="415.76" stroke="#1a1a1a" stroke-width="1"/>
<line x1="116.4" y1="415.76" x2="136.6" y2="415.76" stroke="#2c5680" stroke-width="1.1"/>
<line x1="116.4" y1="412.76" x2="116.4" y2="418.76" stroke="#2c5680" stroke-width="1.1"/>
<line x1="136.6" y1="412.76" x2="136.6" y2="418.76" stroke="#2c5680" stroke-width="1.1"/>
<circle cx="120.5" cy="415.76" r="1.9" fill="#1b3d66"/>
<text x="107.2" y="427.08" font-size="7.1" text-anchor="end" fill="#222" font-style="italic" stroke="#222" stroke-width="0.18">del 12q24 SH2B3</text>
<line x1="110.1" y1="424.58" x2="113.1" y2="424.58" stroke="#1a1a1a" stroke-width="1"/>
<line x1="116.8" y1="424.58" x2="140.7" y2="424.58" stroke="#2c5680" stroke-width="1.1"/>
<line x1="116.8" y1="421.58" x2="116.8" y2="427.58" stroke="#2c5680" stroke-width="1.1"/>
<line x1="140.7" y1="421.58" x2="140.7" y2="427.58" stroke="#2c5680" stroke-width="1.1"/>
<circle cx="121.4" cy="424.58" r="1.9" fill="#1b3d66"/>
<text x="107.2" y="435.9" font-size="7.1" text-anchor="end" fill="#222" font-style="italic" stroke="#222" stroke-width="0.18">del 6q15 CASP8AP2</text>
<line x1="110.1" y1="433.4" x2="113.1" y2="433.4" stroke="#1a1a1a" stroke-width="1"/>
<line x1="118.9" y1="433.4" x2="127.2" y2="433.4" stroke="#2c5680" stroke-width="1.1"/>
<line x1="118.9" y1="430.4" x2="118.9" y2="436.4" stroke="#2c5680" stroke-width="1.1"/>
<line x1="127.2" y1="430.4" x2="127.2" y2="436.4" stroke="#2c5680" stroke-width="1.1"/>
<circle cx="121.4" cy="433.4" r="1.9" fill="#1b3d66"/>
<text x="107.2" y="444.72" font-size="7.1" text-anchor="end" fill="#222" font-style="italic" stroke="#222" stroke-width="0.18">del 1p33 SIL TAL</text>
<line x1="110.1" y1="442.22" x2="113.1" y2="442.22" stroke="#1a1a1a" stroke-width="1"/>
<line x1="119.5" y1="442.22" x2="128.1" y2="442.22" stroke="#2c5680" stroke-width="1.1"/>
<line x1="119.5" y1="439.22" x2="119.5" y2="445.22" stroke="#2c5680" stroke-width="1.1"/>
<line x1="128.1" y1="439.22" x2="128.1" y2="445.22" stroke="#2c5680" stroke-width="1.1"/>
<circle cx="122.2" cy="442.22" r="1.9" fill="#1b3d66"/>
<text x="107.2" y="453.54" font-size="7.1" text-anchor="end" fill="#222" font-style="italic" stroke="#222" stroke-width="0.18">UPD 9p21 CDKN2A B</text>
<line x1="110.1" y1="451.04" x2="113.1" y2="451.04" stroke="#1a1a1a" stroke-width="1"/>
<line x1="119.8" y1="451.04" x2="125.9" y2="451.04" stroke="#2c5680" stroke-width="1.1"/>
<line x1="119.8" y1="448.04" x2="119.8" y2="454.04" stroke="#2c5680" stroke-width="1.1"/>
<line x1="125.9" y1="448.04" x2="125.9" y2="454.04" stroke="#2c5680" stroke-width="1.1"/>
<circle cx="121.4" cy="451.04" r="1.9" fill="#1b3d66"/>
<text x="107.2" y="462.36" font-size="7.1" text-anchor="end" fill="#222" font-style="italic" stroke="#222" stroke-width="0.18">del 5q35 TLX3</text>
<line x1="110.1" y1="459.86" x2="113.1" y2="459.86" stroke="#1a1a1a" stroke-width="1"/>
<line x1="117.4" y1="459.86" x2="135.7" y2="459.86" stroke="#2c5680" stroke-width="1.1"/>
<line x1="117.4" y1="456.86" x2="117.4" y2="462.86" stroke="#2c5680" stroke-width="1.1"/>
<line x1="135.7" y1="456.86" x2="135.7" y2="462.86" stroke="#2c5680" stroke-width="1.1"/>
<circle cx="122.5" cy="459.86" r="1.9" fill="#1b3d66"/>
<text x="107.2" y="471.18" font-size="7.1" text-anchor="end" fill="#222" font-style="italic" stroke="#222" stroke-width="0.18">del 12p13 ETV6 CDKN1B</text>
<line x1="110.1" y1="468.68" x2="113.1" y2="468.68" stroke="#1a1a1a" stroke-width="1"/>
<line x1="118.9" y1="468.68" x2="129.0" y2="468.68" stroke="#2c5680" stroke-width="1.1"/>
<line x1="118.9" y1="465.68" x2="118.9" y2="471.68" stroke="#2c5680" stroke-width="1.1"/>
<line x1="129.0" y1="465.68" x2="129.0" y2="471.68" stroke="#2c5680" stroke-width="1.1"/>
<circle cx="121.4" cy="468.68" r="1.9" fill="#1b3d66"/>
<text x="107.2" y="480.0" font-size="7.1" text-anchor="end" fill="#222" font-style="italic" stroke="#222" stroke-width="0.18">del 4q25 LEF1</text>
<line x1="110.1" y1="477.5" x2="113.1" y2="477.5" stroke="#1a1a1a" stroke-width="1"/>
<line x1="119.5" y1="477.5" x2="130.3" y2="477.5" stroke="#2c5680" stroke-width="1.1"/>
<line x1="119.5" y1="474.5" x2="119.5" y2="480.5" stroke="#2c5680" stroke-width="1.1"/>
<line x1="130.3" y1="474.5" x2="130.3" y2="480.5" stroke="#2c5680" stroke-width="1.1"/>
<circle cx="123.6" cy="477.5" r="1.9" fill="#1b3d66"/>
<text x="107.2" y="488.82" font-size="7.1" text-anchor="end" fill="#222" font-style="italic" stroke="#222" stroke-width="0.18">del 9p21 CDKN2A B</text>
<line x1="110.1" y1="486.32" x2="113.1" y2="486.32" stroke="#1a1a1a" stroke-width="1"/>
<line x1="120.5" y1="486.32" x2="127.6" y2="486.32" stroke="#2c5680" stroke-width="1.1"/>
<line x1="120.5" y1="483.32" x2="120.5" y2="489.32" stroke="#2c5680" stroke-width="1.1"/>
<line x1="127.6" y1="483.32" x2="127.6" y2="489.32" stroke="#2c5680" stroke-width="1.1"/>
<circle cx="123.2" cy="486.32" r="1.9" fill="#1b3d66"/>
<text x="107.2" y="497.64" font-size="7.1" text-anchor="end" fill="#222" font-style="italic" stroke="#222" stroke-width="0.18">del 16q22 CTCF</text>
<line x1="110.1" y1="495.14" x2="113.1" y2="495.14" stroke="#1a1a1a" stroke-width="1"/>
<line x1="119.1" y1="495.14" x2="132.3" y2="495.14" stroke="#2c5680" stroke-width="1.1"/>
<line x1="119.1" y1="492.14" x2="119.1" y2="498.14" stroke="#2c5680" stroke-width="1.1"/>
<line x1="132.3" y1="492.14" x2="132.3" y2="498.14" stroke="#2c5680" stroke-width="1.1"/>
<circle cx="123.8" cy="495.14" r="1.9" fill="#1b3d66"/>
<text x="107.2" y="506.46" font-size="7.1" text-anchor="end" fill="#222" font-style="italic" stroke="#222" stroke-width="0.18">del 11p13 WT1</text>
<line x1="110.1" y1="503.96" x2="113.1" y2="503.96" stroke="#1a1a1a" stroke-width="1"/>
<line x1="117.4" y1="503.96" x2="145.4" y2="503.96" stroke="#2c5680" stroke-width="1.1"/>
<line x1="117.4" y1="500.96" x2="117.4" y2="506.96" stroke="#2c5680" stroke-width="1.1"/>
<line x1="145.4" y1="500.96" x2="145.4" y2="506.96" stroke="#2c5680" stroke-width="1.1"/>
<circle cx="124.9" cy="503.96" r="1.9" fill="#1b3d66"/>
<text x="107.2" y="515.28" font-size="7.1" text-anchor="end" fill="#222" font-style="italic" stroke="#222" stroke-width="0.18">del 11 p13p12 RAG2 LMO2</text>
<line x1="110.1" y1="512.78" x2="113.1" y2="512.78" stroke="#1a1a1a" stroke-width="1"/>
<line x1="118.5" y1="512.78" x2="141.1" y2="512.78" stroke="#2c5680" stroke-width="1.1"/>
<line x1="118.5" y1="509.78" x2="118.5" y2="515.78" stroke="#2c5680" stroke-width="1.1"/>
<line x1="141.1" y1="509.78" x2="141.1" y2="515.78" stroke="#2c5680" stroke-width="1.1"/>
<circle cx="124.5" cy="512.78" r="1.9" fill="#1b3d66"/>
<text x="107.2" y="524.1" font-size="7.1" text-anchor="end" fill="#222" font-style="italic" stroke="#222" stroke-width="0.18">del Xq26 PHF6</text>
<line x1="110.1" y1="521.6" x2="113.1" y2="521.6" stroke="#1a1a1a" stroke-width="1"/>
<line x1="118.5" y1="521.6" x2="142.4" y2="521.6" stroke="#2c5680" stroke-width="1.1"/>
<line x1="118.5" y1="518.6" x2="118.5" y2="524.6" stroke="#2c5680" stroke-width="1.1"/>
<line x1="142.4" y1="518.6" x2="142.4" y2="524.6" stroke="#2c5680" stroke-width="1.1"/>
<circle cx="125.2" cy="521.6" r="1.9" fill="#1b3d66"/>
<text x="107.2" y="532.92" font-size="7.1" text-anchor="end" fill="#222" font-style="italic" stroke="#222" stroke-width="0.18">del 7p12 IKZF1</text>
<line x1="110.1" y1="530.42" x2="113.1" y2="530.42" stroke="#1a1a1a" stroke-width="1"/>
<line x1="119.8" y1="530.42" x2="136.4" y2="530.42" stroke="#2c5680" stroke-width="1.1"/>
<line x1="119.8" y1="527.42" x2="119.8" y2="533.42" stroke="#2c5680" stroke-width="1.1"/>
<line x1="136.4" y1="527.42" x2="136.4" y2="533.42" stroke="#2c5680" stroke-width="1.1"/>
<circle cx="125.2" cy="530.42" r="1.9" fill="#1b3d66"/>
<text x="107.2" y="541.74" font-size="7.1" text-anchor="end" fill="#222" font-style="italic" stroke="#222" stroke-width="0.18">del 11q14 PICALM</text>
<line x1="110.1" y1="539.24" x2="113.1" y2="539.24" stroke="#1a1a1a" stroke-width="1"/>
<line x1="120.1" y1="539.24" x2="137.3" y2="539.24" stroke="#2c5680" stroke-width="1.1"/>
<line x1="120.1" y1="536.24" x2="120.1" y2="542.24" stroke="#2c5680" stroke-width="1.1"/>
<line x1="137.3" y1="536.24" x2="137.3" y2="542.24" stroke="#2c5680" stroke-width="1.1"/>
<circle cx="125.6" cy="539.24" r="1.9" fill="#1b3d66"/>
<text x="107.2" y="550.56" font-size="7.1" text-anchor="end" fill="#222" font-style="italic" stroke="#222" stroke-width="0.18">gain 9q34 NUP214 ABL1</text>
<line x1="110.1" y1="548.06" x2="113.1" y2="548.06" stroke="#1a1a1a" stroke-width="1"/>
<line x1="121.4" y1="548.06" x2="141.3" y2="548.06" stroke="#2c5680" stroke-width="1.1"/>
<line x1="121.4" y1="545.06" x2="121.4" y2="551.06" stroke="#2c5680" stroke-width="1.1"/>
<line x1="141.3" y1="545.06" x2="141.3" y2="551.06" stroke="#2c5680" stroke-width="1.1"/>
<circle cx="127.2" cy="548.06" r="1.9" fill="#1b3d66"/>
<text x="107.2" y="559.38" font-size="7.1" text-anchor="end" fill="#222" font-style="italic" stroke="#222" stroke-width="0.18">del 10q23 PTEN</text>
<line x1="110.1" y1="556.88" x2="113.1" y2="556.88" stroke="#1a1a1a" stroke-width="1"/>
<line x1="122.1" y1="556.88" x2="144.3" y2="556.88" stroke="#c8283f" stroke-width="1.1"/>
<line x1="122.1" y1="553.88" x2="122.1" y2="559.88" stroke="#c8283f" stroke-width="1.1"/>
<line x1="144.3" y1="553.88" x2="144.3" y2="559.88" stroke="#c8283f" stroke-width="1.1"/>
<circle cx="129.0" cy="556.88" r="1.9" fill="#a8102c"/>
<text x="107.2" y="568.2" font-size="7.1" text-anchor="end" fill="#222" font-style="italic" stroke="#222" stroke-width="0.18">del 17p13 TP53</text>
<line x1="110.1" y1="565.7" x2="113.1" y2="565.7" stroke="#1a1a1a" stroke-width="1"/>
<line x1="122.2" y1="565.7" x2="148.5" y2="565.7" stroke="#c8283f" stroke-width="1.1"/>
<line x1="122.2" y1="562.7" x2="122.2" y2="568.7" stroke="#c8283f" stroke-width="1.1"/>
<line x1="148.5" y1="562.7" x2="148.5" y2="568.7" stroke="#c8283f" stroke-width="1.1"/>
<circle cx="131.2" cy="565.7" r="1.9" fill="#a8102c"/>
<text x="107.2" y="577.02" font-size="7.1" text-anchor="end" fill="#222" font-style="italic" stroke="#222" stroke-width="0.18">gain 6q27 MLLT4</text>
<line x1="110.1" y1="574.52" x2="113.1" y2="574.52" stroke="#1a1a1a" stroke-width="1"/>
<line x1="122.5" y1="574.52" x2="151.4" y2="574.52" stroke="#c8283f" stroke-width="1.1"/>
<line x1="122.5" y1="571.52" x2="122.5" y2="577.52" stroke="#c8283f" stroke-width="1.1"/>
<line x1="151.4" y1="571.52" x2="151.4" y2="577.52" stroke="#c8283f" stroke-width="1.1"/>
<circle cx="132.2" cy="574.52" r="1.9" fill="#a8102c"/>
<text x="107.2" y="585.84" font-size="7.1" text-anchor="end" fill="#222" font-style="italic" stroke="#222" stroke-width="0.18">del 16p13 CREBBP</text>
<line x1="110.1" y1="583.34" x2="113.1" y2="583.34" stroke="#1a1a1a" stroke-width="1"/>
<line x1="123.4" y1="583.34" x2="147.4" y2="583.34" stroke="#c8283f" stroke-width="1.1"/>
<line x1="123.4" y1="580.34" x2="123.4" y2="586.34" stroke="#c8283f" stroke-width="1.1"/>
<line x1="147.4" y1="580.34" x2="147.4" y2="586.34" stroke="#c8283f" stroke-width="1.1"/>
<circle cx="132.2" cy="583.34" r="1.9" fill="#a8102c"/>
<text x="107.2" y="594.66" font-size="7.0" text-anchor="end" fill="#222" stroke="#222" stroke-width="0.18">chromothripsis</text>
<line x1="110.1" y1="592.16" x2="113.1" y2="592.16" stroke="#1a1a1a" stroke-width="1"/>
<line x1="123.4" y1="592.16" x2="167.6" y2="592.16" stroke="#c8283f" stroke-width="1.1"/>
<line x1="123.4" y1="589.16" x2="123.4" y2="595.16" stroke="#c8283f" stroke-width="1.1"/>
<line x1="167.6" y1="589.16" x2="167.6" y2="595.16" stroke="#c8283f" stroke-width="1.1"/>
<circle cx="136.0" cy="592.16" r="1.9" fill="#a8102c"/>
<line x1="113.1" y1="293.6" x2="113.1" y2="598.0" stroke="#1a1a1a" stroke-width="1.6"/>
<line x1="112.5" y1="597.4" x2="171.5" y2="597.4" stroke="#1a1a1a" stroke-width="1.3"/>
<line x1="114.6" y1="597.4" x2="114.6" y2="600.1999999999999" stroke="#1a1a1a" stroke-width="1"/>
<text x="114.6" y="610.0" font-size="7.2" text-anchor="middle" fill="#333" stroke="#333" stroke-width="0.15">0</text>
<line x1="128.2" y1="597.4" x2="128.2" y2="600.1999999999999" stroke="#1a1a1a" stroke-width="1"/>
<text x="128.2" y="610.0" font-size="7.2" text-anchor="middle" fill="#333" stroke="#333" stroke-width="0.15">2</text>
<line x1="141.9" y1="597.4" x2="141.9" y2="600.1999999999999" stroke="#1a1a1a" stroke-width="1"/>
<text x="141.9" y="610.0" font-size="7.2" text-anchor="middle" fill="#333" stroke="#333" stroke-width="0.15">4</text>
<line x1="155.5" y1="597.4" x2="155.5" y2="600.1999999999999" stroke="#1a1a1a" stroke-width="1"/>
<text x="155.5" y="610.0" font-size="7.2" text-anchor="middle" fill="#333" stroke="#333" stroke-width="0.15">6</text>
<line x1="169.2" y1="597.4" x2="169.2" y2="600.1999999999999" stroke="#1a1a1a" stroke-width="1"/>
<text x="169.2" y="610.0" font-size="7.2" text-anchor="middle" fill="#333" stroke="#333" stroke-width="0.15">8</text>
<text x="95.2" y="288.1" font-size="9.2" text-anchor="start" fill="#222" textLength="155" lengthAdjust="spacingAndGlyphs">Univariate analysis - Cox model - EFS</text>
<text x="106.9" y="622.9" font-size="9.2" text-anchor="start" fill="#222" textLength="69.3" lengthAdjust="spacingAndGlyphs">Hazard ratio [95% CI]</text>
<rect x="351.5" y="296.81" width="55.00" height="9.18" fill="#eeeeef"/>
<rect x="351.5" y="315.17" width="55.00" height="9.18" fill="#eeeeef"/>
<rect x="351.5" y="333.53" width="55.00" height="9.18" fill="#eeeeef"/>
<rect x="351.5" y="351.89" width="55.00" height="9.18" fill="#eeeeef"/>
<rect x="351.5" y="370.25" width="55.00" height="9.18" fill="#eeeeef"/>
<rect x="351.5" y="388.61" width="55.00" height="9.18" fill="#eeeeef"/>
<rect x="351.5" y="406.97" width="55.00" height="9.18" fill="#eeeeef"/>
<rect x="351.5" y="425.33" width="55.00" height="9.18" fill="#eeeeef"/>
<rect x="351.5" y="443.69" width="55.00" height="9.18" fill="#eeeeef"/>
<rect x="351.5" y="462.05" width="55.00" height="9.18" fill="#eeeeef"/>
<rect x="351.5" y="480.41" width="55.00" height="9.18" fill="#eeeeef"/>
<rect x="351.5" y="498.77" width="55.00" height="9.18" fill="#eeeeef"/>
<rect x="351.5" y="517.13" width="55.00" height="9.18" fill="#eeeeef"/>
<rect x="351.5" y="535.49" width="55.00" height="9.18" fill="#eeeeef"/>
<rect x="351.5" y="553.85" width="55.00" height="9.18" fill="#eeeeef"/>
<rect x="351.5" y="572.21" width="55.00" height="9.18" fill="#eeeeef"/>
<line x1="358.4" y1="295.90" x2="358.4" y2="599.8" stroke="#333" stroke-width="0.9" stroke-dasharray="2.2,1.8"/>
<text x="344.6" y="303.9" font-size="7.1" text-anchor="end" fill="#222" font-style="italic" stroke="#222" stroke-width="0.18">trisomy 8</text>
<line x1="348.5" y1="301.4" x2="351.5" y2="301.4" stroke="#1a1a1a" stroke-width="1"/>
<line x1="354.7" y1="301.4" x2="364.5" y2="301.4" stroke="#2c5680" stroke-width="1.1"/>
<line x1="354.7" y1="298.4" x2="354.7" y2="304.4" stroke="#2c5680" stroke-width="1.1"/>
<line x1="364.5" y1="298.4" x2="364.5" y2="304.4" stroke="#2c5680" stroke-width="1.1"/>
<circle cx="356.4" cy="301.4" r="1.9" fill="#1b3d66"/>
<text x="344.6" y="313.08" font-size="7.1" text-anchor="end" fill="#222" font-style="italic" stroke="#222" stroke-width="0.18">trisomy 20</text>
<line x1="348.5" y1="310.58" x2="351.5" y2="310.58" stroke="#1a1a1a" stroke-width="1"/>
<line x1="354.7" y1="310.58" x2="365.2" y2="310.58" stroke="#2c5680" stroke-width="1.1"/>
<line x1="354.7" y1="307.58" x2="354.7" y2="313.58" stroke="#2c5680" stroke-width="1.1"/>
<line x1="365.2" y1="307.58" x2="365.2" y2="313.58" stroke="#2c5680" stroke-width="1.1"/>
<circle cx="355.8" cy="310.58" r="1.9" fill="#1b3d66"/>
<text x="344.6" y="322.26" font-size="7.1" text-anchor="end" fill="#222" font-style="italic" stroke="#222" stroke-width="0.18">trisomy 19</text>
<line x1="348.5" y1="319.76" x2="351.5" y2="319.76" stroke="#1a1a1a" stroke-width="1"/>
<line x1="354.7" y1="319.76" x2="361.8" y2="319.76" stroke="#2c5680" stroke-width="1.1"/>
<line x1="354.7" y1="316.76" x2="354.7" y2="322.76" stroke="#2c5680" stroke-width="1.1"/>
<line x1="361.8" y1="316.76" x2="361.8" y2="322.76" stroke="#2c5680" stroke-width="1.1"/>
<circle cx="356.4" cy="319.76" r="1.9" fill="#1b3d66"/>
<text x="344.6" y="331.44" font-size="7.1" text-anchor="end" fill="#222" font-style="italic" stroke="#222" stroke-width="0.18">del 13q14 RB1 DLEU1</text>
<line x1="348.5" y1="328.94" x2="351.5" y2="328.94" stroke="#1a1a1a" stroke-width="1"/>
<line x1="354.7" y1="328.94" x2="358.5" y2="328.94" stroke="#2c5680" stroke-width="1.1"/>
<line x1="354.7" y1="325.94" x2="354.7" y2="331.94" stroke="#2c5680" stroke-width="1.1"/>
<line x1="358.5" y1="325.94" x2="358.5" y2="331.94" stroke="#2c5680" stroke-width="1.1"/>
<circle cx="356.4" cy="328.94" r="1.9" fill="#1b3d66"/>
<text x="344.6" y="340.62" font-size="7.1" text-anchor="end" fill="#222" font-style="italic" stroke="#222" stroke-width="0.18">del gain 14q32 BCL11B</text>
<line x1="348.5" y1="338.12" x2="351.5" y2="338.12" stroke="#1a1a1a" stroke-width="1"/>
<line x1="354.7" y1="338.12" x2="363.2" y2="338.12" stroke="#2c5680" stroke-width="1.1"/>
<line x1="354.7" y1="335.12" x2="354.7" y2="341.12" stroke="#2c5680" stroke-width="1.1"/>
<line x1="363.2" y1="335.12" x2="363.2" y2="341.12" stroke="#2c5680" stroke-width="1.1"/>
<circle cx="356.4" cy="338.12" r="1.9" fill="#1b3d66"/>
<text x="344.6" y="349.8" font-size="7.1" text-anchor="end" fill="#222" font-style="italic" stroke="#222" stroke-width="0.18">del 21q22 RUNX1</text>
<line x1="348.5" y1="347.3" x2="351.5" y2="347.3" stroke="#1a1a1a" stroke-width="1"/>
<line x1="354.7" y1="347.3" x2="370.3" y2="347.3" stroke="#2c5680" stroke-width="1.1"/>
<line x1="354.7" y1="344.3" x2="354.7" y2="350.3" stroke="#2c5680" stroke-width="1.1"/>
<line x1="370.3" y1="344.3" x2="370.3" y2="350.3" stroke="#2c5680" stroke-width="1.1"/>
<circle cx="357.1" cy="347.3" r="1.9" fill="#1b3d66"/>
<text x="344.6" y="358.98" font-size="7.1" text-anchor="end" fill="#222" font-style="italic" stroke="#222" stroke-width="0.18">del Xq26 PHF6</text>
<line x1="348.5" y1="356.48" x2="351.5" y2="356.48" stroke="#1a1a1a" stroke-width="1"/>
<line x1="354.7" y1="356.48" x2="370.3" y2="356.48" stroke="#2c5680" stroke-width="1.1"/>
<line x1="354.7" y1="353.48" x2="354.7" y2="359.48" stroke="#2c5680" stroke-width="1.1"/>
<line x1="370.3" y1="353.48" x2="370.3" y2="359.48" stroke="#2c5680" stroke-width="1.1"/>
<circle cx="357.1" cy="356.48" r="1.9" fill="#1b3d66"/>
<text x="344.6" y="368.16" font-size="7.1" text-anchor="end" fill="#222" font-style="italic" stroke="#222" stroke-width="0.18">del 19p13 DNM2</text>
<line x1="348.5" y1="365.66" x2="351.5" y2="365.66" stroke="#1a1a1a" stroke-width="1"/>
<line x1="354.7" y1="365.66" x2="362.2" y2="365.66" stroke="#2c5680" stroke-width="1.1"/>
<line x1="354.7" y1="362.66" x2="354.7" y2="368.66" stroke="#2c5680" stroke-width="1.1"/>
<line x1="362.2" y1="362.66" x2="362.2" y2="368.66" stroke="#2c5680" stroke-width="1.1"/>
<circle cx="357.4" cy="365.66" r="1.9" fill="#1b3d66"/>
<text x="344.6" y="377.34" font-size="7.1" text-anchor="end" fill="#222" font-style="italic" stroke="#222" stroke-width="0.18">del 12q24 SH2B3</text>
<line x1="348.5" y1="374.84" x2="351.5" y2="374.84" stroke="#1a1a1a" stroke-width="1"/>
<line x1="354.7" y1="374.84" x2="377.6" y2="374.84" stroke="#2c5680" stroke-width="1.1"/>
<line x1="354.7" y1="371.84" x2="354.7" y2="377.84" stroke="#2c5680" stroke-width="1.1"/>
<line x1="377.6" y1="371.84" x2="377.6" y2="377.84" stroke="#2c5680" stroke-width="1.1"/>
<circle cx="357.1" cy="374.84" r="1.9" fill="#1b3d66"/>
<text x="344.6" y="386.52" font-size="7.1" text-anchor="end" fill="#222" font-style="italic" stroke="#222" stroke-width="0.18">del 17q11 NF1 SUZ12</text>
<line x1="348.5" y1="384.02" x2="351.5" y2="384.02" stroke="#1a1a1a" stroke-width="1"/>
<line x1="354.7" y1="384.02" x2="362.2" y2="384.02" stroke="#2c5680" stroke-width="1.1"/>
<line x1="354.7" y1="381.02" x2="354.7" y2="387.02" stroke="#2c5680" stroke-width="1.1"/>
<line x1="362.2" y1="381.02" x2="362.2" y2="387.02" stroke="#2c5680" stroke-width="1.1"/>
<circle cx="357.1" cy="384.02" r="1.9" fill="#1b3d66"/>
<text x="344.6" y="395.7" font-size="7.1" text-anchor="end" fill="#222" font-style="italic" stroke="#222" stroke-width="0.18">del 11p13 WT1</text>
<line x1="348.5" y1="393.2" x2="351.5" y2="393.2" stroke="#1a1a1a" stroke-width="1"/>
<line x1="354.7" y1="393.2" x2="382.4" y2="393.2" stroke="#2c5680" stroke-width="1.1"/>
<line x1="354.7" y1="390.2" x2="354.7" y2="396.2" stroke="#2c5680" stroke-width="1.1"/>
<line x1="382.4" y1="390.2" x2="382.4" y2="396.2" stroke="#2c5680" stroke-width="1.1"/>
<circle cx="356.8" cy="393.2" r="1.9" fill="#1b3d66"/>
<text x="344.6" y="404.88" font-size="7.1" text-anchor="end" fill="#222" font-style="italic" stroke="#222" stroke-width="0.18">del 1p36 RPL22</text>
<line x1="348.5" y1="402.38" x2="351.5" y2="402.38" stroke="#1a1a1a" stroke-width="1"/>
<line x1="355.8" y1="402.38" x2="362.5" y2="402.38" stroke="#2c5680" stroke-width="1.1"/>
<line x1="355.8" y1="399.38" x2="355.8" y2="405.38" stroke="#2c5680" stroke-width="1.1"/>
<line x1="362.5" y1="399.38" x2="362.5" y2="405.38" stroke="#2c5680" stroke-width="1.1"/>
<circle cx="357.8" cy="402.38" r="1.9" fill="#1b3d66"/>
<text x="344.6" y="414.06" font-size="7.1" text-anchor="end" fill="#222" font-style="italic" stroke="#222" stroke-width="0.18">del 18p11 PTPN2</text>
<line x1="348.5" y1="411.56" x2="351.5" y2="411.56" stroke="#1a1a1a" stroke-width="1"/>
<line x1="356.4" y1="411.56" x2="362.5" y2="411.56" stroke="#2c5680" stroke-width="1.1"/>
<line x1="356.4" y1="408.56" x2="356.4" y2="414.56" stroke="#2c5680" stroke-width="1.1"/>
<line x1="362.5" y1="408.56" x2="362.5" y2="414.56" stroke="#2c5680" stroke-width="1.1"/>
<circle cx="358.2" cy="411.56" r="1.9" fill="#1b3d66"/>
<text x="344.6" y="423.24" font-size="7.1" text-anchor="end" fill="#222" font-style="italic" stroke="#222" stroke-width="0.18">del 9q34 SET NUP214</text>
<line x1="348.5" y1="420.74" x2="351.5" y2="420.74" stroke="#1a1a1a" stroke-width="1"/>
<line x1="355.8" y1="420.74" x2="368.1" y2="420.74" stroke="#2c5680" stroke-width="1.1"/>
<line x1="355.8" y1="417.74" x2="355.8" y2="423.74" stroke="#2c5680" stroke-width="1.1"/>
<line x1="368.1" y1="417.74" x2="368.1" y2="423.74" stroke="#2c5680" stroke-width="1.1"/>
<circle cx="357.8" cy="420.74" r="1.9" fill="#1b3d66"/>
<text x="344.6" y="432.42" font-size="7.1" text-anchor="end" fill="#222" font-style="italic" stroke="#222" stroke-width="0.18">del 12p13 ETV6 CDKN1B</text>
<line x1="348.5" y1="429.92" x2="351.5" y2="429.92" stroke="#1a1a1a" stroke-width="1"/>
<line x1="356.4" y1="429.92" x2="363.8" y2="429.92" stroke="#2c5680" stroke-width="1.1"/>
<line x1="356.4" y1="426.92" x2="356.4" y2="432.92" stroke="#2c5680" stroke-width="1.1"/>
<line x1="363.8" y1="426.92" x2="363.8" y2="432.92" stroke="#2c5680" stroke-width="1.1"/>
<circle cx="358.2" cy="429.92" r="1.9" fill="#1b3d66"/>
<text x="344.6" y="441.6" font-size="7.1" text-anchor="end" fill="#222" font-style="italic" stroke="#222" stroke-width="0.18">del 6q15 CASP8AP2</text>
<line x1="348.5" y1="439.1" x2="351.5" y2="439.1" stroke="#1a1a1a" stroke-width="1"/>
<line x1="357.1" y1="439.1" x2="363.8" y2="439.1" stroke="#2c5680" stroke-width="1.1"/>
<line x1="357.1" y1="436.1" x2="357.1" y2="442.1" stroke="#2c5680" stroke-width="1.1"/>
<line x1="363.8" y1="436.1" x2="363.8" y2="442.1" stroke="#2c5680" stroke-width="1.1"/>
<circle cx="358.5" cy="439.1" r="1.9" fill="#1b3d66"/>
<text x="344.6" y="450.78" font-size="7.1" text-anchor="end" fill="#222" font-style="italic" stroke="#222" stroke-width="0.18">gain 6q23 MYB AHI1</text>
<line x1="348.5" y1="448.28" x2="351.5" y2="448.28" stroke="#1a1a1a" stroke-width="1"/>
<line x1="356.8" y1="448.28" x2="365.9" y2="448.28" stroke="#2c5680" stroke-width="1.1"/>
<line x1="356.8" y1="445.28" x2="356.8" y2="451.28" stroke="#2c5680" stroke-width="1.1"/>
<line x1="365.9" y1="445.28" x2="365.9" y2="451.28" stroke="#2c5680" stroke-width="1.1"/>
<circle cx="358.5" cy="448.28" r="1.9" fill="#1b3d66"/>
<text x="344.6" y="459.96" font-size="7.1" text-anchor="end" fill="#222" font-style="italic" stroke="#222" stroke-width="0.18">UPD 9p21 CDKN2A B</text>
<line x1="348.5" y1="457.46" x2="351.5" y2="457.46" stroke="#1a1a1a" stroke-width="1"/>
<line x1="357.8" y1="457.46" x2="362.2" y2="457.46" stroke="#2c5680" stroke-width="1.1"/>
<line x1="357.8" y1="454.46" x2="357.8" y2="460.46" stroke="#2c5680" stroke-width="1.1"/>
<line x1="362.2" y1="454.46" x2="362.2" y2="460.46" stroke="#2c5680" stroke-width="1.1"/>
<circle cx="358.7" cy="457.46" r="1.9" fill="#1b3d66"/>
<text x="344.6" y="469.14" font-size="7.1" text-anchor="end" fill="#222" font-style="italic" stroke="#222" stroke-width="0.18">UPD 12q24 SH2B3</text>
<line x1="348.5" y1="466.64" x2="351.5" y2="466.64" stroke="#1a1a1a" stroke-width="1"/>
<line x1="355.5" y1="466.64" x2="379.3" y2="466.64" stroke="#2c5680" stroke-width="1.1"/>
<line x1="355.5" y1="463.64" x2="355.5" y2="469.64" stroke="#2c5680" stroke-width="1.1"/>
<line x1="379.3" y1="463.64" x2="379.3" y2="469.64" stroke="#2c5680" stroke-width="1.1"/>
<circle cx="359.5" cy="466.64" r="1.9" fill="#1b3d66"/>
<text x="344.6" y="478.32" font-size="7.1" text-anchor="end" fill="#222" font-style="italic" stroke="#222" stroke-width="0.18">del 5q35 TLX3</text>
<line x1="348.5" y1="475.82" x2="351.5" y2="475.82" stroke="#1a1a1a" stroke-width="1"/>
<line x1="355.8" y1="475.82" x2="370.3" y2="475.82" stroke="#2c5680" stroke-width="1.1"/>
<line x1="355.8" y1="472.82" x2="355.8" y2="478.82" stroke="#2c5680" stroke-width="1.1"/>
<line x1="370.3" y1="472.82" x2="370.3" y2="478.82" stroke="#2c5680" stroke-width="1.1"/>
<circle cx="359.8" cy="475.82" r="1.9" fill="#1b3d66"/>
<text x="344.6" y="487.5" font-size="7.1" text-anchor="end" fill="#222" font-style="italic" stroke="#222" stroke-width="0.18">del 16q22 CTCF</text>
<line x1="348.5" y1="485.0" x2="351.5" y2="485.0" stroke="#1a1a1a" stroke-width="1"/>
<line x1="357.4" y1="485.0" x2="369.0" y2="485.0" stroke="#2c5680" stroke-width="1.1"/>
<line x1="357.4" y1="482.0" x2="357.4" y2="488.0" stroke="#2c5680" stroke-width="1.1"/>
<line x1="369.0" y1="482.0" x2="369.0" y2="488.0" stroke="#2c5680" stroke-width="1.1"/>
<circle cx="360.7" cy="485.0" r="1.9" fill="#1b3d66"/>
<text x="344.6" y="496.68" font-size="7.1" text-anchor="end" fill="#222" font-style="italic" stroke="#222" stroke-width="0.18">del 9p21 CDKN2A B</text>
<line x1="348.5" y1="494.18" x2="351.5" y2="494.18" stroke="#1a1a1a" stroke-width="1"/>
<line x1="358.5" y1="494.18" x2="365.5" y2="494.18" stroke="#2c5680" stroke-width="1.1"/>
<line x1="358.5" y1="491.18" x2="358.5" y2="497.18" stroke="#2c5680" stroke-width="1.1"/>
<line x1="365.5" y1="491.18" x2="365.5" y2="497.18" stroke="#2c5680" stroke-width="1.1"/>
<circle cx="361.2" cy="494.18" r="1.9" fill="#1b3d66"/>
<text x="344.6" y="505.86" font-size="7.1" text-anchor="end" fill="#222" font-style="italic" stroke="#222" stroke-width="0.18">del 1p33 SIL TAL</text>
<line x1="348.5" y1="503.36" x2="351.5" y2="503.36" stroke="#1a1a1a" stroke-width="1"/>
<line x1="358.5" y1="503.36" x2="367.2" y2="503.36" stroke="#2c5680" stroke-width="1.1"/>
<line x1="358.5" y1="500.36" x2="358.5" y2="506.36" stroke="#2c5680" stroke-width="1.1"/>
<line x1="367.2" y1="500.36" x2="367.2" y2="506.36" stroke="#2c5680" stroke-width="1.1"/>
<circle cx="361.2" cy="503.36" r="1.9" fill="#1b3d66"/>
<text x="344.6" y="515.04" font-size="7.1" text-anchor="end" fill="#222" font-style="italic" stroke="#222" stroke-width="0.18">del 17p13 TP53</text>
<line x1="348.5" y1="512.54" x2="351.5" y2="512.54" stroke="#1a1a1a" stroke-width="1"/>
<line x1="357.1" y1="512.54" x2="375.3" y2="512.54" stroke="#2c5680" stroke-width="1.1"/>
<line x1="357.1" y1="509.53999999999996" x2="357.1" y2="515.54" stroke="#2c5680" stroke-width="1.1"/>
<line x1="375.3" y1="509.53999999999996" x2="375.3" y2="515.54" stroke="#2c5680" stroke-width="1.1"/>
<circle cx="361.2" cy="512.54" r="1.9" fill="#1b3d66"/>
<text x="344.6" y="524.22" font-size="7.1" text-anchor="end" fill="#222" font-style="italic" stroke="#222" stroke-width="0.18">del 11 p13p12 RAG2 LMO2</text>
<line x1="348.5" y1="521.72" x2="351.5" y2="521.72" stroke="#1a1a1a" stroke-width="1"/>
<line x1="357.8" y1="521.72" x2="374.9" y2="521.72" stroke="#2c5680" stroke-width="1.1"/>
<line x1="357.8" y1="518.72" x2="357.8" y2="524.72" stroke="#2c5680" stroke-width="1.1"/>
<line x1="374.9" y1="518.72" x2="374.9" y2="524.72" stroke="#2c5680" stroke-width="1.1"/>
<circle cx="362.2" cy="521.72" r="1.9" fill="#1b3d66"/>
<text x="344.6" y="533.4" font-size="7.1" text-anchor="end" fill="#222" font-style="italic" stroke="#222" stroke-width="0.18">del 11q14 PICALM</text>
<line x1="348.5" y1="530.9" x2="351.5" y2="530.9" stroke="#1a1a1a" stroke-width="1"/>
<line x1="357.8" y1="530.9" x2="373.5" y2="530.9" stroke="#2c5680" stroke-width="1.1"/>
<line x1="357.8" y1="527.9" x2="357.8" y2="533.9" stroke="#2c5680" stroke-width="1.1"/>
<line x1="373.5" y1="527.9" x2="373.5" y2="533.9" stroke="#2c5680" stroke-width="1.1"/>
<circle cx="361.8" cy="530.9" r="1.9" fill="#1b3d66"/>
<text x="344.6" y="542.58" font-size="7.1" text-anchor="end" fill="#222" font-style="italic" stroke="#222" stroke-width="0.18">del 4q25 LEF1</text>
<line x1="348.5" y1="540.08" x2="351.5" y2="540.08" stroke="#1a1a1a" stroke-width="1"/>
<line x1="357.8" y1="540.08" x2="370.3" y2="540.08" stroke="#2c5680" stroke-width="1.1"/>
<line x1="357.8" y1="537.08" x2="357.8" y2="543.08" stroke="#2c5680" stroke-width="1.1"/>
<line x1="370.3" y1="537.08" x2="370.3" y2="543.08" stroke="#2c5680" stroke-width="1.1"/>
<circle cx="361.8" cy="540.08" r="1.9" fill="#1b3d66"/>
<text x="344.6" y="551.76" font-size="7.1" text-anchor="end" fill="#222" font-style="italic" stroke="#222" stroke-width="0.18">gain 9q34 NUP214 ABL1</text>
<line x1="348.5" y1="549.26" x2="351.5" y2="549.26" stroke="#1a1a1a" stroke-width="1"/>
<line x1="357.4" y1="549.26" x2="379.7" y2="549.26" stroke="#2c5680" stroke-width="1.1"/>
<line x1="357.4" y1="546.26" x2="357.4" y2="552.26" stroke="#2c5680" stroke-width="1.1"/>
<line x1="379.7" y1="546.26" x2="379.7" y2="552.26" stroke="#2c5680" stroke-width="1.1"/>
<circle cx="362.5" cy="549.26" r="1.9" fill="#1b3d66"/>
<text x="344.6" y="560.94" font-size="7.1" text-anchor="end" fill="#222" font-style="italic" stroke="#222" stroke-width="0.18">del 16p13 CREBBP</text>
<line x1="348.5" y1="558.44" x2="351.5" y2="558.44" stroke="#1a1a1a" stroke-width="1"/>
<line x1="358.2" y1="558.44" x2="380.7" y2="558.44" stroke="#2c5680" stroke-width="1.1"/>
<line x1="358.2" y1="555.44" x2="358.2" y2="561.44" stroke="#2c5680" stroke-width="1.1"/>
<line x1="380.7" y1="555.44" x2="380.7" y2="561.44" stroke="#2c5680" stroke-width="1.1"/>
<circle cx="363.6" cy="558.44" r="1.9" fill="#1b3d66"/>
<text x="344.6" y="570.12" font-size="7.1" text-anchor="end" fill="#222" font-style="italic" stroke="#222" stroke-width="0.18">del 7p12 IKZF1</text>
<line x1="348.5" y1="567.62" x2="351.5" y2="567.62" stroke="#1a1a1a" stroke-width="1"/>
<line x1="358.5" y1="567.62" x2="375.7" y2="567.62" stroke="#c8283f" stroke-width="1.1"/>
<line x1="358.5" y1="564.62" x2="358.5" y2="570.62" stroke="#c8283f" stroke-width="1.1"/>
<line x1="375.7" y1="564.62" x2="375.7" y2="570.62" stroke="#c8283f" stroke-width="1.1"/>
<circle cx="364.1" cy="567.62" r="1.9" fill="#a8102c"/>
<text x="344.6" y="579.3" font-size="7.1" text-anchor="end" fill="#222" font-style="italic" stroke="#222" stroke-width="0.18">del 10q23 PTEN</text>
<line x1="348.5" y1="576.8" x2="351.5" y2="576.8" stroke="#1a1a1a" stroke-width="1"/>
<line x1="358.7" y1="576.8" x2="382.4" y2="576.8" stroke="#c8283f" stroke-width="1.1"/>
<line x1="358.7" y1="573.8" x2="358.7" y2="579.8" stroke="#c8283f" stroke-width="1.1"/>
<line x1="382.4" y1="573.8" x2="382.4" y2="579.8" stroke="#c8283f" stroke-width="1.1"/>
<circle cx="365.9" cy="576.8" r="1.9" fill="#a8102c"/>
<text x="344.6" y="588.48" font-size="7.1" text-anchor="end" fill="#222" font-style="italic" stroke="#222" stroke-width="0.18">gain 6q27 MLLT4</text>
<line x1="348.5" y1="585.98" x2="351.5" y2="585.98" stroke="#1a1a1a" stroke-width="1"/>
<line x1="358.5" y1="585.98" x2="391.8" y2="585.98" stroke="#2c5680" stroke-width="1.1"/>
<line x1="358.5" y1="582.98" x2="358.5" y2="588.98" stroke="#2c5680" stroke-width="1.1"/>
<line x1="391.8" y1="582.98" x2="391.8" y2="588.98" stroke="#2c5680" stroke-width="1.1"/>
<circle cx="367.2" cy="585.98" r="1.9" fill="#1b3d66"/>
<text x="344.6" y="597.66" font-size="7.0" text-anchor="end" fill="#222" stroke="#222" stroke-width="0.18">chromothripsis</text>
<line x1="348.5" y1="595.16" x2="351.5" y2="595.16" stroke="#1a1a1a" stroke-width="1"/>
<line x1="364.5" y1="595.16" x2="406.6" y2="595.16" stroke="#c8283f" stroke-width="1.1"/>
<line x1="364.5" y1="592.16" x2="364.5" y2="598.16" stroke="#c8283f" stroke-width="1.1"/>
<line x1="406.6" y1="592.16" x2="406.6" y2="598.16" stroke="#c8283f" stroke-width="1.1"/>
<circle cx="376.9" cy="595.16" r="1.9" fill="#a8102c"/>
<line x1="351.5" y1="293.9" x2="351.5" y2="600.9" stroke="#1a1a1a" stroke-width="1.3"/>
<line x1="350.9" y1="600.3" x2="410" y2="600.3" stroke="#1a1a1a" stroke-width="1.3"/>
<line x1="353.8" y1="600.3" x2="353.8" y2="603.0999999999999" stroke="#1a1a1a" stroke-width="1"/>
<text x="353.8" y="612.9" font-size="7.2" text-anchor="middle" fill="#333" stroke="#333" stroke-width="0.15">0</text>
<line x1="367.7" y1="600.3" x2="367.7" y2="603.0999999999999" stroke="#1a1a1a" stroke-width="1"/>
<text x="367.7" y="612.9" font-size="7.2" text-anchor="middle" fill="#333" stroke="#333" stroke-width="0.15">3</text>
<line x1="381.5" y1="600.3" x2="381.5" y2="603.0999999999999" stroke="#1a1a1a" stroke-width="1"/>
<text x="381.5" y="612.9" font-size="7.2" text-anchor="middle" fill="#333" stroke="#333" stroke-width="0.15">6</text>
<line x1="395.4" y1="600.3" x2="395.4" y2="603.0999999999999" stroke="#1a1a1a" stroke-width="1"/>
<text x="395.4" y="612.9" font-size="7.2" text-anchor="middle" fill="#333" stroke="#333" stroke-width="0.15">9</text>
<text x="338.75" y="288.1" font-size="9.2" text-anchor="start" fill="#222" textLength="108.3" lengthAdjust="spacingAndGlyphs">Fine and Gray’s Test - CIR</text>
<text x="360" y="625.3" font-size="9.2" text-anchor="start" fill="#222" textLength="43" lengthAdjust="spacingAndGlyphs">SHR [95% CI]</text>
<text x="175.8" y="406.0" font-size="7" text-anchor="start" fill="#222" textLength="23.6" lengthAdjust="spacingAndGlyphs" stroke="#222" stroke-width="0.15"><tspan font-style="italic">P</tspan>.Value</text>
<line x1="175.4" y1="413.1" x2="184.20000000000002" y2="413.1" stroke="#2c5680" stroke-width="1.2"/>
<line x1="179.8" y1="409.1" x2="179.8" y2="417.1" stroke="#2c5680" stroke-width="1.2"/>
<circle cx="179.8" cy="413.1" r="1.6" fill="#1b3d66"/>
<text x="187.3" y="415.6" font-size="7" text-anchor="start" fill="#222" textLength="41" lengthAdjust="spacingAndGlyphs" stroke="#222" stroke-width="0.15"><tspan font-style="italic">P</tspan>-value &gt; .05</text>
<line x1="175.4" y1="421.7" x2="184.20000000000002" y2="421.7" stroke="#c8283f" stroke-width="1.2"/>
<line x1="179.8" y1="417.7" x2="179.8" y2="425.7" stroke="#c8283f" stroke-width="1.2"/>
<circle cx="179.8" cy="421.7" r="1.6" fill="#a8102c"/>
<text x="187.3" y="424.2" font-size="7" text-anchor="start" fill="#222" textLength="54.4" lengthAdjust="spacingAndGlyphs" stroke="#222" stroke-width="0.15"><tspan font-style="italic">P</tspan>-value &lt; .05, HR</text>
<text x="413.8" y="405.7" font-size="7" text-anchor="start" fill="#222" textLength="23.6" lengthAdjust="spacingAndGlyphs" stroke="#222" stroke-width="0.15"><tspan font-style="italic">P</tspan>.Value</text>
<line x1="413.0" y1="413.1" x2="421.79999999999995" y2="413.1" stroke="#2c5680" stroke-width="1.2"/>
<line x1="417.4" y1="409.1" x2="417.4" y2="417.1" stroke="#2c5680" stroke-width="1.2"/>
<circle cx="417.4" cy="413.1" r="1.6" fill="#1b3d66"/>
<text x="425.2" y="415.6" font-size="7" text-anchor="start" fill="#222" textLength="40.8" lengthAdjust="spacingAndGlyphs" stroke="#222" stroke-width="0.15"><tspan font-style="italic">P</tspan>-value &gt; .05</text>
<line x1="413.0" y1="422.2" x2="421.79999999999995" y2="422.2" stroke="#c8283f" stroke-width="1.2"/>
<line x1="417.4" y1="418.2" x2="417.4" y2="426.2" stroke="#c8283f" stroke-width="1.2"/>
<circle cx="417.4" cy="422.2" r="1.6" fill="#a8102c"/>
<text x="425.2" y="424.7" font-size="7" text-anchor="start" fill="#222" textLength="65.8" lengthAdjust="spacingAndGlyphs" stroke="#222" stroke-width="0.15"><tspan font-style="italic">P</tspan>-value &lt; .05, HR &gt; 1</text>
<rect x="0" y="0" width="520" height="1.05" fill="#111"/><rect x="0" y="0" width="1.15" height="636" fill="#111"/><rect x="518.75" y="0" width="1.25" height="636" fill="#111"/><rect x="0" y="634.6" width="520" height="1.4" fill="#111"/>
</svg>
</body></html>
